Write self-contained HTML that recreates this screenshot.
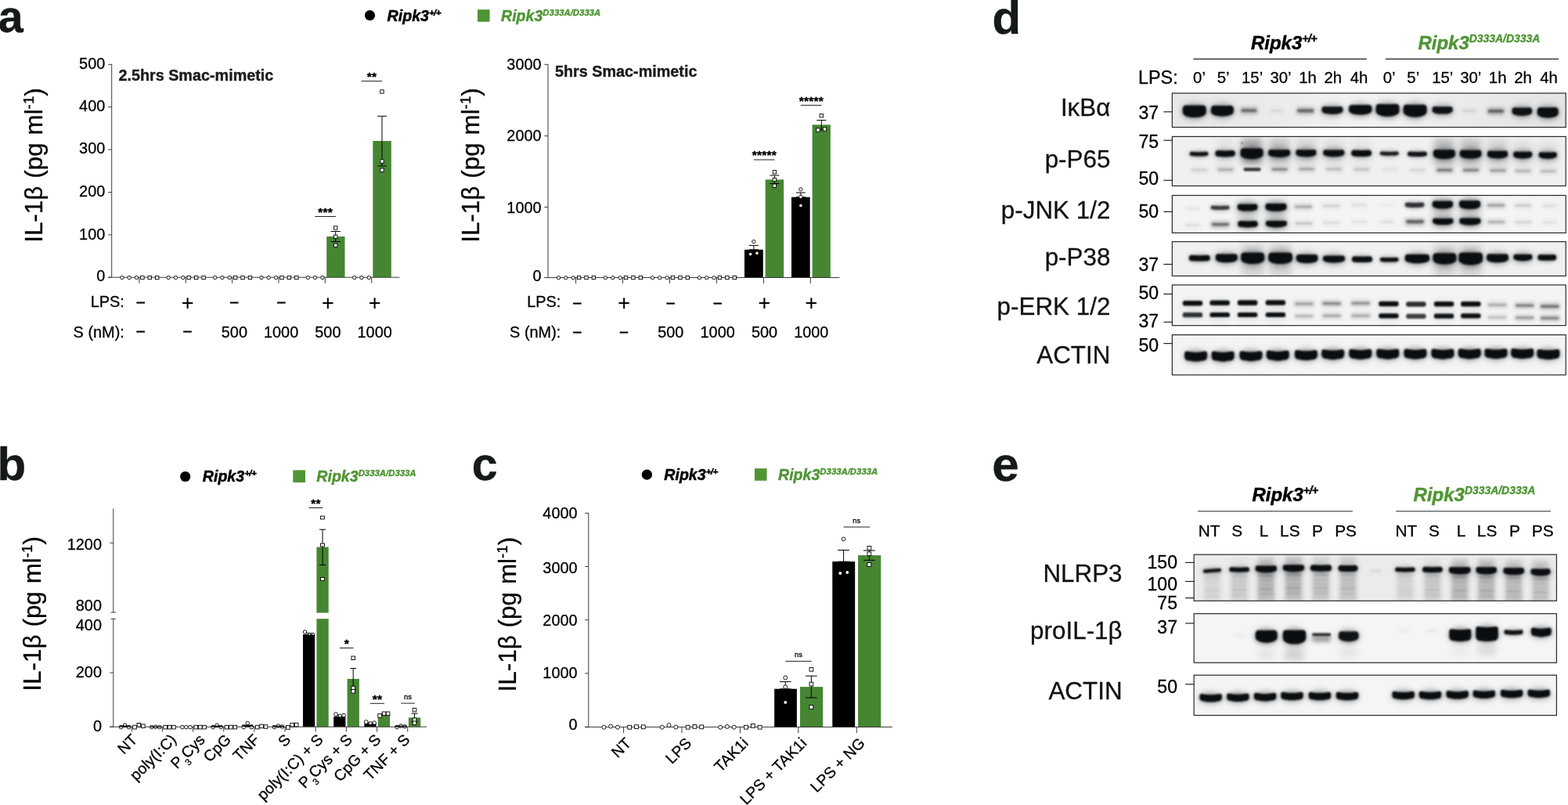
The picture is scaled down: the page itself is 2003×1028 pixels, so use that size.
<!DOCTYPE html>
<html lang="en">
<head>
<meta charset="utf-8">
<title>Figure: IL-1β release and signalling in Ripk3 D333A macrophages</title>
<style>
html,body{margin:0;padding:0;background:#fff;}
body{width:2003px;height:1028px;overflow:hidden;font-family:"Liberation Sans",sans-serif;}
svg{display:block;}
svg text{font-family:"Liberation Sans",sans-serif;}
</style>
</head>
<body>
<svg width="2003" height="1028" viewBox="0 0 2003 1028">
<defs>
<filter id="b0" color-interpolation-filters="sRGB" filterUnits="userSpaceOnUse" x="1480" y="100" width="523" height="830"><feGaussianBlur stdDeviation="0.8"/></filter>
<filter id="b1" color-interpolation-filters="sRGB" filterUnits="userSpaceOnUse" x="1480" y="100" width="523" height="830"><feGaussianBlur stdDeviation="1.3"/></filter>
<filter id="b2" color-interpolation-filters="sRGB" filterUnits="userSpaceOnUse" x="1480" y="100" width="523" height="830"><feGaussianBlur stdDeviation="2.4"/></filter>
<filter id="b3" color-interpolation-filters="sRGB" filterUnits="userSpaceOnUse" x="1480" y="100" width="523" height="830"><feGaussianBlur stdDeviation="4.5"/></filter>
</defs>
<rect width="2003" height="1028" fill="#fff"/>
<g id="panel-a">
<text x="-2.3" y="41.4" font-size="57.4" font-weight="bold" fill="#15191a" stroke="#15191a" stroke-width="0.4">a</text>
<circle cx="472.5" cy="19.7" r="6.6" fill="#000"/>
<text x="494.6" y="26.6" font-size="19.6" font-weight="bold" font-style="italic" stroke="#000" stroke-width="0.45">Ripk3<tspan font-size="11.76" dy="-6.86" letter-spacing="-0.7">+/+</tspan></text>
<rect x="610" y="12.2" width="15.6" height="15.6" fill="#509535"/>
<text x="640" y="26.6" font-size="19.6" font-weight="bold" font-style="italic" fill="#509535" stroke="#509535" stroke-width="0.4">Ripk3<tspan font-size="11.37" dy="-6.86">D333A/D333A</tspan></text>
<rect x="417.2" y="302" width="23.3" height="52.2" fill="#468633"/>
<rect x="476.3" y="180" width="23.5" height="174.2" fill="#468633"/>
<line x1="142.7" y1="81.8" x2="142.7" y2="354.7" stroke="#3a3a3a" stroke-width="1"/>
<line x1="138.1" y1="354.2" x2="510.3" y2="354.2" stroke="#3a3a3a" stroke-width="1"/>
<line x1="138.1" y1="82.3" x2="142.7" y2="82.3" stroke="#3a3a3a" stroke-width="1"/>
<text x="134.3" y="87.6" font-size="19.9" text-anchor="end" stroke="#000" stroke-width="0.28">500</text>
<line x1="138.1" y1="136.7" x2="142.7" y2="136.7" stroke="#3a3a3a" stroke-width="1"/>
<text x="134.3" y="141.7" font-size="19.9" text-anchor="end" stroke="#000" stroke-width="0.28">400</text>
<line x1="138.1" y1="191.1" x2="142.7" y2="191.1" stroke="#3a3a3a" stroke-width="1"/>
<text x="134.3" y="196.3" font-size="19.9" text-anchor="end" stroke="#000" stroke-width="0.28">300</text>
<line x1="138.1" y1="245.5" x2="142.7" y2="245.5" stroke="#3a3a3a" stroke-width="1"/>
<text x="134.3" y="250.6" font-size="19.9" text-anchor="end" stroke="#000" stroke-width="0.28">200</text>
<line x1="138.1" y1="299.9" x2="142.7" y2="299.9" stroke="#3a3a3a" stroke-width="1"/>
<text x="134.3" y="305.5" font-size="19.9" text-anchor="end" stroke="#000" stroke-width="0.28">100</text>
<line x1="138.1" y1="354.2" x2="142.7" y2="354.2" stroke="#3a3a3a" stroke-width="1"/>
<text x="134.3" y="358.6" font-size="19.9" text-anchor="end" stroke="#000" stroke-width="0.28">0</text>
<line x1="177.9" y1="354.2" x2="177.9" y2="361.7" stroke="#3a3a3a" stroke-width="1"/>
<line x1="237.26" y1="354.2" x2="237.26" y2="361.7" stroke="#3a3a3a" stroke-width="1"/>
<line x1="296.62" y1="354.2" x2="296.62" y2="361.7" stroke="#3a3a3a" stroke-width="1"/>
<line x1="355.98" y1="354.2" x2="355.98" y2="361.7" stroke="#3a3a3a" stroke-width="1"/>
<line x1="415.34" y1="354.2" x2="415.34" y2="361.7" stroke="#3a3a3a" stroke-width="1"/>
<line x1="474.7" y1="354.2" x2="474.7" y2="361.7" stroke="#3a3a3a" stroke-width="1"/>
<path d="M422.55 295.5H434.85M428.7 295.5V308.5M422.55 308.5H434.85" stroke="#000" stroke-width="1" fill="none"/>
<path d="M482.1 148.3H493.9M488 148.3V212M482.1 212H493.9" stroke="#000" stroke-width="1" fill="none"/>
<circle cx="155.9" cy="354.5" r="2.2" fill="#fff" stroke="#000" stroke-width="0.9"/>
<circle cx="165.1" cy="354.5" r="2.2" fill="#fff" stroke="#000" stroke-width="0.9"/>
<circle cx="174.5" cy="354.5" r="2.2" fill="#fff" stroke="#000" stroke-width="0.9"/>
<rect x="179.7" y="352.3" width="4.4" height="4.4" fill="#fff" stroke="#000" stroke-width="0.9"/>
<rect x="189.1" y="352.3" width="4.4" height="4.4" fill="#fff" stroke="#000" stroke-width="0.9"/>
<rect x="198.5" y="352.3" width="4.4" height="4.4" fill="#fff" stroke="#000" stroke-width="0.9"/>
<circle cx="215.26" cy="354.5" r="2.2" fill="#fff" stroke="#000" stroke-width="0.9"/>
<circle cx="224.46" cy="354.5" r="2.2" fill="#fff" stroke="#000" stroke-width="0.9"/>
<circle cx="233.86" cy="354.5" r="2.2" fill="#fff" stroke="#000" stroke-width="0.9"/>
<rect x="239.06" y="352.3" width="4.4" height="4.4" fill="#fff" stroke="#000" stroke-width="0.9"/>
<rect x="248.46" y="352.3" width="4.4" height="4.4" fill="#fff" stroke="#000" stroke-width="0.9"/>
<rect x="257.86" y="352.3" width="4.4" height="4.4" fill="#fff" stroke="#000" stroke-width="0.9"/>
<circle cx="274.62" cy="354.5" r="2.2" fill="#fff" stroke="#000" stroke-width="0.9"/>
<circle cx="283.82" cy="354.5" r="2.2" fill="#fff" stroke="#000" stroke-width="0.9"/>
<circle cx="293.22" cy="354.5" r="2.2" fill="#fff" stroke="#000" stroke-width="0.9"/>
<rect x="298.42" y="352.3" width="4.4" height="4.4" fill="#fff" stroke="#000" stroke-width="0.9"/>
<rect x="307.82" y="352.3" width="4.4" height="4.4" fill="#fff" stroke="#000" stroke-width="0.9"/>
<rect x="317.22" y="352.3" width="4.4" height="4.4" fill="#fff" stroke="#000" stroke-width="0.9"/>
<circle cx="333.98" cy="354.5" r="2.2" fill="#fff" stroke="#000" stroke-width="0.9"/>
<circle cx="343.18" cy="354.5" r="2.2" fill="#fff" stroke="#000" stroke-width="0.9"/>
<circle cx="352.58" cy="354.5" r="2.2" fill="#fff" stroke="#000" stroke-width="0.9"/>
<rect x="357.78" y="352.3" width="4.4" height="4.4" fill="#fff" stroke="#000" stroke-width="0.9"/>
<rect x="367.18" y="352.3" width="4.4" height="4.4" fill="#fff" stroke="#000" stroke-width="0.9"/>
<rect x="376.58" y="352.3" width="4.4" height="4.4" fill="#fff" stroke="#000" stroke-width="0.9"/>
<circle cx="393.34" cy="354.5" r="2.2" fill="#fff" stroke="#000" stroke-width="0.9"/>
<circle cx="402.54" cy="354.5" r="2.2" fill="#fff" stroke="#000" stroke-width="0.9"/>
<circle cx="411.94" cy="354.5" r="2.2" fill="#fff" stroke="#000" stroke-width="0.9"/>
<circle cx="452.7" cy="354.5" r="2.2" fill="#fff" stroke="#000" stroke-width="0.9"/>
<circle cx="461.9" cy="354.5" r="2.2" fill="#fff" stroke="#000" stroke-width="0.9"/>
<circle cx="471.3" cy="354.5" r="2.2" fill="#fff" stroke="#000" stroke-width="0.9"/>
<rect x="426.5" y="288.8" width="4.4" height="4.4" fill="#fff" stroke="#000" stroke-width="0.9"/>
<rect x="426.5" y="300.1" width="4.4" height="4.4" fill="#fff" stroke="#000" stroke-width="0.9"/>
<rect x="426.5" y="311" width="4.4" height="4.4" fill="#fff" stroke="#000" stroke-width="0.9"/>
<rect x="485.8" y="114.8" width="4.4" height="4.4" fill="#fff" stroke="#000" stroke-width="0.9"/>
<rect x="485.8" y="203.8" width="4.4" height="4.4" fill="#fff" stroke="#000" stroke-width="0.9"/>
<rect x="485.8" y="215" width="4.4" height="4.4" fill="#fff" stroke="#000" stroke-width="0.9"/>
<line x1="402.3" y1="276.5" x2="428.9" y2="276.5" stroke="#222" stroke-width="1"/>
<text x="415.7" y="275.8" font-size="15.5" text-anchor="middle" font-weight="bold" stroke="#000" stroke-width="0.4" letter-spacing="0.2">***</text>
<line x1="461.6" y1="103.6" x2="488.2" y2="103.6" stroke="#222" stroke-width="1"/>
<text x="475" y="102.9" font-size="15.5" text-anchor="middle" font-weight="bold" stroke="#000" stroke-width="0.4" letter-spacing="0.2">**</text>
<text x="151.4" y="102.8" font-size="19.8" font-weight="bold" fill="#1c1c1c" stroke="#1c1c1c" stroke-width="0.4">2.5hrs Smac-mimetic</text>
<text x="158.8" y="391.6" font-size="19.9" text-anchor="end" stroke="#000" stroke-width="0.28">LPS:</text>
<text x="158.8" y="430.5" font-size="19.9" text-anchor="end" stroke="#000" stroke-width="0.28">S (nM):</text>
<text x="179.8" y="391.2" font-size="18" text-anchor="middle" stroke="#000" stroke-width="0.7">–</text>
<text x="179.8" y="428.2" font-size="18" text-anchor="middle" stroke="#000" stroke-width="0.7">–</text>
<text x="239.58" y="395.7" font-size="27" text-anchor="middle" stroke="#000" stroke-width="0.12">+</text>
<text x="239.58" y="428.2" font-size="18" text-anchor="middle" stroke="#000" stroke-width="0.7">–</text>
<text x="299.36" y="391.2" font-size="18" text-anchor="middle" stroke="#000" stroke-width="0.7">–</text>
<text x="299.36" y="430.7" font-size="19.9" text-anchor="middle" stroke="#000" stroke-width="0.28">500</text>
<text x="359.14" y="391.2" font-size="18" text-anchor="middle" stroke="#000" stroke-width="0.7">–</text>
<text x="359.14" y="430.7" font-size="19.9" text-anchor="middle" stroke="#000" stroke-width="0.28">1000</text>
<text x="418.92" y="395.7" font-size="27" text-anchor="middle" stroke="#000" stroke-width="0.12">+</text>
<text x="418.92" y="430.7" font-size="19.9" text-anchor="middle" stroke="#000" stroke-width="0.28">500</text>
<text x="478.7" y="395.7" font-size="27" text-anchor="middle" stroke="#000" stroke-width="0.12">+</text>
<text x="478.7" y="430.7" font-size="19.9" text-anchor="middle" stroke="#000" stroke-width="0.28">1000</text>
<text transform="translate(54.2 211) rotate(-90)" font-size="31.4" text-anchor="middle" stroke="#000" stroke-width="0.3" word-spacing="1.2">IL-1β (pg ml<tspan font-size="18.84" dy="-11.3">-1</tspan><tspan dy="11.3">)</tspan></text>
<rect x="951" y="318.8" width="23.8" height="35.7" fill="#000"/>
<rect x="977.7" y="229.3" width="23.5" height="125.2" fill="#468633"/>
<rect x="1011" y="251.7" width="23.7" height="102.8" fill="#000"/>
<rect x="1037.6" y="159.3" width="23.3" height="195.2" fill="#468633"/>
<line x1="700" y1="81.8" x2="700" y2="355" stroke="#3a3a3a" stroke-width="1"/>
<line x1="695.4" y1="354.5" x2="1072.5" y2="354.5" stroke="#3a3a3a" stroke-width="1"/>
<line x1="695.4" y1="82.3" x2="700" y2="82.3" stroke="#3a3a3a" stroke-width="1"/>
<text x="691.6" y="88.9" font-size="19.9" text-anchor="end" stroke="#000" stroke-width="0.28">3000</text>
<line x1="695.4" y1="173.6" x2="700" y2="173.6" stroke="#3a3a3a" stroke-width="1"/>
<text x="691.6" y="180.4" font-size="19.9" text-anchor="end" stroke="#000" stroke-width="0.28">2000</text>
<line x1="695.4" y1="264.5" x2="700" y2="264.5" stroke="#3a3a3a" stroke-width="1"/>
<text x="691.6" y="271.8" font-size="19.9" text-anchor="end" stroke="#000" stroke-width="0.28">1000</text>
<line x1="695.4" y1="354.5" x2="700" y2="354.5" stroke="#3a3a3a" stroke-width="1"/>
<text x="691.6" y="358.5" font-size="19.9" text-anchor="end" stroke="#000" stroke-width="0.28">0</text>
<line x1="735.6" y1="354.5" x2="735.6" y2="362" stroke="#3a3a3a" stroke-width="1"/>
<line x1="795.55" y1="354.5" x2="795.55" y2="362" stroke="#3a3a3a" stroke-width="1"/>
<line x1="855.5" y1="354.5" x2="855.5" y2="362" stroke="#3a3a3a" stroke-width="1"/>
<line x1="915.45" y1="354.5" x2="915.45" y2="362" stroke="#3a3a3a" stroke-width="1"/>
<line x1="975.4" y1="354.5" x2="975.4" y2="362" stroke="#3a3a3a" stroke-width="1"/>
<line x1="1035.35" y1="354.5" x2="1035.35" y2="362" stroke="#3a3a3a" stroke-width="1"/>
<path d="M956.8 313.4H968.8M962.8 313.4V318.8M956.8 318.8H968.8" stroke="#000" stroke-width="1" fill="none"/>
<path d="M983.4 224H995.4M989.4 224V234.5M983.4 234.5H995.4" stroke="#000" stroke-width="1" fill="none"/>
<path d="M1016.9 246H1028.9M1022.9 246V251.7M1016.9 251.7H1028.9" stroke="#000" stroke-width="1" fill="none"/>
<path d="M1043.3 153.5H1055.3M1049.3 153.5V166M1043.3 166H1055.3" stroke="#000" stroke-width="1" fill="none"/>
<circle cx="713.6" cy="354.7" r="2.2" fill="#fff" stroke="#000" stroke-width="0.9"/>
<circle cx="722.8" cy="354.7" r="2.2" fill="#fff" stroke="#000" stroke-width="0.9"/>
<circle cx="732.2" cy="354.7" r="2.2" fill="#fff" stroke="#000" stroke-width="0.9"/>
<rect x="737.4" y="352.3" width="4.4" height="4.4" fill="#fff" stroke="#000" stroke-width="0.9"/>
<rect x="746.8" y="352.3" width="4.4" height="4.4" fill="#fff" stroke="#000" stroke-width="0.9"/>
<rect x="756.2" y="352.3" width="4.4" height="4.4" fill="#fff" stroke="#000" stroke-width="0.9"/>
<circle cx="773.55" cy="354.7" r="2.2" fill="#fff" stroke="#000" stroke-width="0.9"/>
<circle cx="782.75" cy="354.7" r="2.2" fill="#fff" stroke="#000" stroke-width="0.9"/>
<circle cx="792.15" cy="354.7" r="2.2" fill="#fff" stroke="#000" stroke-width="0.9"/>
<rect x="797.35" y="352.3" width="4.4" height="4.4" fill="#fff" stroke="#000" stroke-width="0.9"/>
<rect x="806.75" y="352.3" width="4.4" height="4.4" fill="#fff" stroke="#000" stroke-width="0.9"/>
<rect x="816.15" y="352.3" width="4.4" height="4.4" fill="#fff" stroke="#000" stroke-width="0.9"/>
<circle cx="833.5" cy="354.7" r="2.2" fill="#fff" stroke="#000" stroke-width="0.9"/>
<circle cx="842.7" cy="354.7" r="2.2" fill="#fff" stroke="#000" stroke-width="0.9"/>
<circle cx="852.1" cy="354.7" r="2.2" fill="#fff" stroke="#000" stroke-width="0.9"/>
<rect x="857.3" y="352.3" width="4.4" height="4.4" fill="#fff" stroke="#000" stroke-width="0.9"/>
<rect x="866.7" y="352.3" width="4.4" height="4.4" fill="#fff" stroke="#000" stroke-width="0.9"/>
<rect x="876.1" y="352.3" width="4.4" height="4.4" fill="#fff" stroke="#000" stroke-width="0.9"/>
<circle cx="893.45" cy="354.7" r="2.2" fill="#fff" stroke="#000" stroke-width="0.9"/>
<circle cx="902.65" cy="354.7" r="2.2" fill="#fff" stroke="#000" stroke-width="0.9"/>
<circle cx="912.05" cy="354.7" r="2.2" fill="#fff" stroke="#000" stroke-width="0.9"/>
<rect x="917.25" y="352.3" width="4.4" height="4.4" fill="#fff" stroke="#000" stroke-width="0.9"/>
<rect x="926.65" y="352.3" width="4.4" height="4.4" fill="#fff" stroke="#000" stroke-width="0.9"/>
<rect x="936.05" y="352.3" width="4.4" height="4.4" fill="#fff" stroke="#000" stroke-width="0.9"/>
<circle cx="962.8" cy="308.5" r="2.2" fill="#fff" stroke="#000" stroke-width="0.9"/>
<circle cx="958.6" cy="324.6" r="2.2" fill="#fff" stroke="#000" stroke-width="0.9"/>
<circle cx="967" cy="323.3" r="2.2" fill="#fff" stroke="#000" stroke-width="0.9"/>
<rect x="987.2" y="217.6" width="4.4" height="4.4" fill="#fff" stroke="#000" stroke-width="0.9"/>
<rect x="987.2" y="227.3" width="4.4" height="4.4" fill="#fff" stroke="#000" stroke-width="0.9"/>
<rect x="987.2" y="235" width="4.4" height="4.4" fill="#fff" stroke="#000" stroke-width="0.9"/>
<circle cx="1022.9" cy="241.8" r="2.2" fill="#fff" stroke="#000" stroke-width="0.9"/>
<circle cx="1022.9" cy="251.5" r="2.2" fill="#fff" stroke="#000" stroke-width="0.9"/>
<circle cx="1022.9" cy="262.6" r="2.2" fill="#fff" stroke="#000" stroke-width="0.9"/>
<rect x="1047.1" y="145.6" width="4.4" height="4.4" fill="#fff" stroke="#000" stroke-width="0.9"/>
<rect x="1042.8" y="163.8" width="4.4" height="4.4" fill="#fff" stroke="#000" stroke-width="0.9"/>
<rect x="1051.3" y="162.8" width="4.4" height="4.4" fill="#fff" stroke="#000" stroke-width="0.9"/>
<line x1="962.9" y1="204" x2="989.5" y2="204" stroke="#222" stroke-width="1"/>
<text x="976.3" y="203.3" font-size="15.5" text-anchor="middle" font-weight="bold" stroke="#000" stroke-width="0.4" letter-spacing="0.2">*****</text>
<line x1="1022.9" y1="134.4" x2="1049.5" y2="134.4" stroke="#222" stroke-width="1"/>
<text x="1036.3" y="133.7" font-size="15.5" text-anchor="middle" font-weight="bold" stroke="#000" stroke-width="0.4" letter-spacing="0.2">*****</text>
<text x="709" y="98.3" font-size="19.8" font-weight="bold" fill="#1c1c1c" stroke="#1c1c1c" stroke-width="0.4">5hrs Smac-mimetic</text>
<text x="716.3" y="391.9" font-size="19.9" text-anchor="end" stroke="#000" stroke-width="0.28">LPS:</text>
<text x="716.3" y="430.8" font-size="19.9" text-anchor="end" stroke="#000" stroke-width="0.28">S (nM):</text>
<text x="737.2" y="391.5" font-size="18" text-anchor="middle" stroke="#000" stroke-width="0.7">–</text>
<text x="737.2" y="428.5" font-size="18" text-anchor="middle" stroke="#000" stroke-width="0.7">–</text>
<text x="797.02" y="396" font-size="27" text-anchor="middle" stroke="#000" stroke-width="0.12">+</text>
<text x="797.02" y="428.5" font-size="18" text-anchor="middle" stroke="#000" stroke-width="0.7">–</text>
<text x="856.84" y="391.5" font-size="18" text-anchor="middle" stroke="#000" stroke-width="0.7">–</text>
<text x="856.84" y="431" font-size="19.9" text-anchor="middle" stroke="#000" stroke-width="0.28">500</text>
<text x="916.66" y="391.5" font-size="18" text-anchor="middle" stroke="#000" stroke-width="0.7">–</text>
<text x="916.66" y="431" font-size="19.9" text-anchor="middle" stroke="#000" stroke-width="0.28">1000</text>
<text x="976.48" y="396" font-size="27" text-anchor="middle" stroke="#000" stroke-width="0.12">+</text>
<text x="976.48" y="431" font-size="19.9" text-anchor="middle" stroke="#000" stroke-width="0.28">500</text>
<text x="1036.3" y="396" font-size="27" text-anchor="middle" stroke="#000" stroke-width="0.12">+</text>
<text x="1036.3" y="431" font-size="19.9" text-anchor="middle" stroke="#000" stroke-width="0.28">1000</text>
<text transform="translate(612.2 211) rotate(-90)" font-size="31.4" text-anchor="middle" stroke="#000" stroke-width="0.3" word-spacing="1.2">IL-1β (pg ml<tspan font-size="18.84" dy="-11.3">-1</tspan><tspan dy="11.3">)</tspan></text>
</g>
<g id="panel-b">
<text x="-3.6" y="613" font-size="60" font-weight="bold" fill="#15191a" stroke="#15191a" stroke-width="0.4">b</text>
<circle cx="236.7" cy="608.5" r="6.6" fill="#000"/>
<text x="258.8" y="615.2" font-size="19.6" font-weight="bold" font-style="italic" stroke="#000" stroke-width="0.45">Ripk3<tspan font-size="11.76" dy="-6.86" letter-spacing="-0.7">+/+</tspan></text>
<rect x="374.3" y="600.4" width="15.7" height="15.7" fill="#509535"/>
<text x="404.3" y="615.2" font-size="19.6" font-weight="bold" font-style="italic" fill="#509535" stroke="#509535" stroke-width="0.4">Ripk3<tspan font-size="11.37" dy="-6.86">D333A/D333A</tspan></text>
<rect x="365.25" y="925.8" width="15.3" height="2.4" fill="#468633"/>
<rect x="387.02" y="810.1" width="15.2" height="118.1" fill="#000"/>
<rect x="404.42" y="698.6" width="15.3" height="229.6" fill="#468633"/>
<rect x="426.19" y="915.2" width="15.2" height="13" fill="#000"/>
<rect x="443.59" y="867" width="15.3" height="61.2" fill="#468633"/>
<rect x="465.36" y="923.9" width="15.2" height="4.3" fill="#000"/>
<rect x="482.76" y="912.3" width="15.3" height="15.9" fill="#468633"/>
<rect x="504.53" y="926.8" width="15.2" height="1.4" fill="#000"/>
<rect x="521.93" y="916.4" width="15.3" height="11.8" fill="#468633"/>
<rect x="152" y="927" width="15.2" height="1.2" fill="#000"/>
<rect x="269.51" y="927" width="15.2" height="1.2" fill="#000"/>
<rect x="308.68" y="926.8" width="15.2" height="1.4" fill="#000"/>
<rect x="347.85" y="927" width="15.2" height="1.2" fill="#000"/>
<rect x="402.22" y="782.6" width="20" height="7.6" fill="#fff"/>
<line x1="144.8" y1="649.4" x2="144.8" y2="782" stroke="#3a3a3a" stroke-width="1"/>
<line x1="141.6" y1="782" x2="148" y2="782" stroke="#3a3a3a" stroke-width="1"/>
<line x1="141.6" y1="790.3" x2="148" y2="790.3" stroke="#3a3a3a" stroke-width="1"/>
<line x1="144.8" y1="790.3" x2="144.8" y2="928.7" stroke="#3a3a3a" stroke-width="1"/>
<line x1="140.2" y1="928.2" x2="545.2" y2="928.2" stroke="#3a3a3a" stroke-width="1"/>
<line x1="140.2" y1="693.3" x2="144.8" y2="693.3" stroke="#3a3a3a" stroke-width="1"/>
<text x="130" y="701.6" font-size="19.9" text-anchor="end" stroke="#000" stroke-width="0.28">1200</text>
<text x="130" y="780.4" font-size="19.9" text-anchor="end" stroke="#000" stroke-width="0.28">800</text>
<text x="130" y="804.8" font-size="19.9" text-anchor="end" stroke="#000" stroke-width="0.28">400</text>
<line x1="140.2" y1="859" x2="144.8" y2="859" stroke="#3a3a3a" stroke-width="1"/>
<text x="130" y="865.3" font-size="19.9" text-anchor="end" stroke="#000" stroke-width="0.28">200</text>
<line x1="140.2" y1="928.2" x2="144.8" y2="928.2" stroke="#3a3a3a" stroke-width="1"/>
<text x="130" y="933.7" font-size="19.9" text-anchor="end" stroke="#000" stroke-width="0.28">0</text>
<line x1="168.2" y1="928.2" x2="168.2" y2="934.6" stroke="#3a3a3a" stroke-width="1"/>
<line x1="207.37" y1="928.2" x2="207.37" y2="934.6" stroke="#3a3a3a" stroke-width="1"/>
<line x1="246.54" y1="928.2" x2="246.54" y2="934.6" stroke="#3a3a3a" stroke-width="1"/>
<line x1="285.71" y1="928.2" x2="285.71" y2="934.6" stroke="#3a3a3a" stroke-width="1"/>
<line x1="324.88" y1="928.2" x2="324.88" y2="934.6" stroke="#3a3a3a" stroke-width="1"/>
<line x1="364.05" y1="928.2" x2="364.05" y2="934.6" stroke="#3a3a3a" stroke-width="1"/>
<line x1="403.22" y1="928.2" x2="403.22" y2="934.6" stroke="#3a3a3a" stroke-width="1"/>
<line x1="442.39" y1="928.2" x2="442.39" y2="934.6" stroke="#3a3a3a" stroke-width="1"/>
<line x1="481.56" y1="928.2" x2="481.56" y2="934.6" stroke="#3a3a3a" stroke-width="1"/>
<line x1="520.73" y1="928.2" x2="520.73" y2="934.6" stroke="#3a3a3a" stroke-width="1"/>
<path d="M408.02 676.2H416.02M412.02 676.2V721.5M408.02 721.5H416.02" stroke="#000" stroke-width="1" fill="none"/>
<path d="M390.62 808.6H398.62M394.62 808.6V810.6M390.62 810.6H398.62" stroke="#000" stroke-width="1" fill="none"/>
<path d="M447.49 853.5H454.89M451.19 853.5V880.5M447.49 880.5H454.89" stroke="#000" stroke-width="1" fill="none"/>
<path d="M429.79 913.6H437.79M433.79 913.6V915.4M429.79 915.4H437.79" stroke="#000" stroke-width="1" fill="none"/>
<path d="M468.96 922.6H476.96M472.96 922.6V924.2M468.96 924.2H476.96" stroke="#000" stroke-width="1" fill="none"/>
<path d="M486.36 911.3H494.36M490.36 911.3V913.3M486.36 913.3H494.36" stroke="#000" stroke-width="1" fill="none"/>
<path d="M525.53 911.2H533.53M529.53 911.2V921.8M525.53 921.8H533.53" stroke="#000" stroke-width="1" fill="none"/>
<circle cx="154.6" cy="928.6" r="2.3" fill="#fff" stroke="#000" stroke-width="0.9"/>
<circle cx="159.6" cy="926" r="2.3" fill="#fff" stroke="#000" stroke-width="0.9"/>
<circle cx="164.6" cy="928.6" r="2.3" fill="#fff" stroke="#000" stroke-width="0.9"/>
<line x1="152.6" y1="927.53" x2="166.6" y2="927.53" stroke="#000" stroke-width="2.37" opacity="0.8"/>
<rect x="169.7" y="926.3" width="4.6" height="4.6" fill="#fff" stroke="#000" stroke-width="0.9"/>
<rect x="175.1" y="923.5" width="4.6" height="4.6" fill="#fff" stroke="#000" stroke-width="0.9"/>
<rect x="180.5" y="924.9" width="4.6" height="4.6" fill="#fff" stroke="#000" stroke-width="0.9"/>
<circle cx="193.77" cy="928.6" r="2.3" fill="#fff" stroke="#000" stroke-width="0.9"/>
<circle cx="198.77" cy="928.3" r="2.3" fill="#fff" stroke="#000" stroke-width="0.9"/>
<circle cx="203.77" cy="928.6" r="2.3" fill="#fff" stroke="#000" stroke-width="0.9"/>
<line x1="191.77" y1="928.3" x2="205.77" y2="928.3" stroke="#000" stroke-width="1.6" opacity="0.8"/>
<rect x="208.87" y="926.3" width="4.6" height="4.6" fill="#fff" stroke="#000" stroke-width="0.9"/>
<rect x="214.27" y="926.3" width="4.6" height="4.6" fill="#fff" stroke="#000" stroke-width="0.9"/>
<rect x="219.67" y="926.3" width="4.6" height="4.6" fill="#fff" stroke="#000" stroke-width="0.9"/>
<circle cx="232.94" cy="928.6" r="2.3" fill="#fff" stroke="#000" stroke-width="0.9"/>
<circle cx="237.94" cy="928.6" r="2.3" fill="#fff" stroke="#000" stroke-width="0.9"/>
<circle cx="242.94" cy="928.6" r="2.3" fill="#fff" stroke="#000" stroke-width="0.9"/>
<rect x="248.04" y="926.3" width="4.6" height="4.6" fill="#fff" stroke="#000" stroke-width="0.9"/>
<rect x="253.44" y="926.3" width="4.6" height="4.6" fill="#fff" stroke="#000" stroke-width="0.9"/>
<rect x="258.84" y="926.3" width="4.6" height="4.6" fill="#fff" stroke="#000" stroke-width="0.9"/>
<circle cx="272.11" cy="928.6" r="2.3" fill="#fff" stroke="#000" stroke-width="0.9"/>
<circle cx="277.11" cy="926.2" r="2.3" fill="#fff" stroke="#000" stroke-width="0.9"/>
<circle cx="282.11" cy="928.6" r="2.3" fill="#fff" stroke="#000" stroke-width="0.9"/>
<line x1="270.11" y1="927.6" x2="284.11" y2="927.6" stroke="#000" stroke-width="2.3" opacity="0.8"/>
<rect x="287.21" y="926.3" width="4.6" height="4.6" fill="#fff" stroke="#000" stroke-width="0.9"/>
<rect x="292.61" y="926.3" width="4.6" height="4.6" fill="#fff" stroke="#000" stroke-width="0.9"/>
<rect x="298.01" y="926.3" width="4.6" height="4.6" fill="#fff" stroke="#000" stroke-width="0.9"/>
<circle cx="311.28" cy="928.6" r="2.3" fill="#fff" stroke="#000" stroke-width="0.9"/>
<circle cx="316.28" cy="923.6" r="2.3" fill="#fff" stroke="#000" stroke-width="0.9"/>
<circle cx="321.28" cy="928.6" r="2.3" fill="#fff" stroke="#000" stroke-width="0.9"/>
<line x1="309.28" y1="926.73" x2="323.28" y2="926.73" stroke="#000" stroke-width="2.7" opacity="0.8"/>
<rect x="326.38" y="926.3" width="4.6" height="4.6" fill="#fff" stroke="#000" stroke-width="0.9"/>
<rect x="331.78" y="925.1" width="4.6" height="4.6" fill="#fff" stroke="#000" stroke-width="0.9"/>
<rect x="337.18" y="925.7" width="4.6" height="4.6" fill="#fff" stroke="#000" stroke-width="0.9"/>
<circle cx="350.45" cy="928.6" r="2.3" fill="#fff" stroke="#000" stroke-width="0.9"/>
<circle cx="355.45" cy="927" r="2.3" fill="#fff" stroke="#000" stroke-width="0.9"/>
<circle cx="360.45" cy="928" r="2.3" fill="#fff" stroke="#000" stroke-width="0.9"/>
<line x1="348.45" y1="927.67" x2="362.45" y2="927.67" stroke="#000" stroke-width="2.23" opacity="0.8"/>
<rect x="365.55" y="926.7" width="4.6" height="4.6" fill="#fff" stroke="#000" stroke-width="0.9"/>
<rect x="370.95" y="923.3" width="4.6" height="4.6" fill="#fff" stroke="#000" stroke-width="0.9"/>
<rect x="376.35" y="923.3" width="4.6" height="4.6" fill="#fff" stroke="#000" stroke-width="0.9"/>
<circle cx="507.13" cy="928.6" r="2.3" fill="#fff" stroke="#000" stroke-width="0.9"/>
<circle cx="512.13" cy="927" r="2.3" fill="#fff" stroke="#000" stroke-width="0.9"/>
<circle cx="517.13" cy="927.8" r="2.3" fill="#fff" stroke="#000" stroke-width="0.9"/>
<line x1="505.13" y1="927.6" x2="519.13" y2="927.6" stroke="#000" stroke-width="2.3" opacity="0.8"/>
<circle cx="389.5" cy="807" r="2.2" fill="#fff" stroke="#000" stroke-width="0.9"/>
<circle cx="395.2" cy="809.8" r="1.5" fill="#fff" stroke="#000" stroke-width="0.9"/>
<circle cx="400" cy="809.8" r="1.5" fill="#fff" stroke="#000" stroke-width="0.9"/>
<rect x="409.52" y="659.1" width="5" height="3.8" fill="#fff" stroke="#000" stroke-width="0.9"/>
<rect x="409.52" y="694.1" width="5" height="3.8" fill="#fff" stroke="#000" stroke-width="0.9"/>
<rect x="409.52" y="737.5" width="5" height="3.8" fill="#fff" stroke="#000" stroke-width="0.9"/>
<circle cx="429" cy="912.1" r="2.4" fill="#fff" stroke="#000" stroke-width="0.9"/>
<circle cx="434.3" cy="914" r="2.1" fill="#fff" stroke="#000" stroke-width="0.9"/>
<circle cx="439.1" cy="913.6" r="2.3" fill="#fff" stroke="#000" stroke-width="0.9"/>
<rect x="448.89" y="838" width="4.6" height="4.6" fill="#fff" stroke="#000" stroke-width="0.9"/>
<rect x="448.89" y="876.3" width="4.6" height="4.6" fill="#fff" stroke="#000" stroke-width="0.9"/>
<rect x="448.89" y="880.5" width="4.6" height="4.6" fill="#fff" stroke="#000" stroke-width="0.9"/>
<circle cx="467.7" cy="922" r="2.4" fill="#fff" stroke="#000" stroke-width="0.9"/>
<circle cx="473.2" cy="923.6" r="2.1" fill="#fff" stroke="#000" stroke-width="0.9"/>
<circle cx="478.2" cy="923" r="2.3" fill="#fff" stroke="#000" stroke-width="0.9"/>
<rect x="482.8" y="911.7" width="4.6" height="4.6" fill="#fff" stroke="#000" stroke-width="0.9"/>
<rect x="488.3" y="909" width="4.6" height="4.6" fill="#fff" stroke="#000" stroke-width="0.9"/>
<rect x="493.3" y="909" width="4.6" height="4.6" fill="#fff" stroke="#000" stroke-width="0.9"/>
<rect x="527.23" y="904.3" width="4.6" height="4.6" fill="#fff" stroke="#000" stroke-width="0.9"/>
<rect x="527.23" y="916.9" width="4.6" height="4.6" fill="#fff" stroke="#000" stroke-width="0.9"/>
<rect x="527.23" y="921" width="4.6" height="4.6" fill="#fff" stroke="#000" stroke-width="0.9"/>
<line x1="394.32" y1="648.5" x2="412.32" y2="648.5" stroke="#222" stroke-width="1"/>
<text x="403.42" y="647.8" font-size="15.5" text-anchor="middle" font-weight="bold" stroke="#000" stroke-width="0.4" letter-spacing="0.2">**</text>
<line x1="433.89" y1="827.5" x2="451.49" y2="827.5" stroke="#222" stroke-width="1"/>
<text x="442.79" y="826.8" font-size="15.5" text-anchor="middle" font-weight="bold" stroke="#000" stroke-width="0.4" letter-spacing="0.2">*</text>
<line x1="472.96" y1="898.3" x2="490.96" y2="898.3" stroke="#222" stroke-width="1"/>
<text x="482.06" y="897.6" font-size="15.5" text-anchor="middle" font-weight="bold" stroke="#000" stroke-width="0.4" letter-spacing="0.2">**</text>
<line x1="512.13" y1="898.1" x2="529.93" y2="898.1" stroke="#222" stroke-width="1"/>
<text x="521.03" y="892.7" font-size="9.4" text-anchor="middle" stroke="#000" stroke-width="0.28">ns</text>
<text transform="translate(176.7 945.7) rotate(-45)" font-size="19.6" text-anchor="end" stroke="#000" stroke-width="0.28">NT</text>
<text transform="translate(226.37 945.7) rotate(-45)" font-size="19.6" text-anchor="end" stroke="#000" stroke-width="0.28">poly(I:C)</text>
<text transform="translate(263.04 945.7) rotate(-45)" font-size="19.6" text-anchor="end" stroke="#000" stroke-width="0.28">P<tspan font-size="11.5" dx="0.4" dy="7.4">3</tspan><tspan dx="-1.4" dy="-7.4">Cys</tspan></text>
<text transform="translate(296.21 945.7) rotate(-45)" font-size="19.6" text-anchor="end" stroke="#000" stroke-width="0.28">CpG</text>
<text transform="translate(332.68 945.7) rotate(-45)" font-size="19.6" text-anchor="end" stroke="#000" stroke-width="0.28">TNF</text>
<text transform="translate(372.55 945.7) rotate(-45)" font-size="19.6" text-anchor="end" stroke="#000" stroke-width="0.28">S</text>
<text transform="translate(413.92 945.7) rotate(-45)" font-size="19.6" text-anchor="end" stroke="#000" stroke-width="0.28">poly(I:C) + S</text>
<text transform="translate(451.19 945.7) rotate(-45)" font-size="19.6" text-anchor="end" stroke="#000" stroke-width="0.28">P<tspan font-size="11.5" dx="0.4" dy="7.4">3</tspan><tspan dx="-1.4" dy="-7.4">Cys</tspan> + S</text>
<text transform="translate(487.66 945.7) rotate(-45)" font-size="19.6" text-anchor="end" stroke="#000" stroke-width="0.28">CpG + S</text>
<text transform="translate(524.63 945.7) rotate(-45)" font-size="19.6" text-anchor="end" stroke="#000" stroke-width="0.28">TNF + S</text>
<text transform="translate(52.3 783.8) rotate(-90)" font-size="31.4" text-anchor="middle" stroke="#000" stroke-width="0.3" word-spacing="1.2">IL-1β (pg ml<tspan font-size="18.84" dy="-11.3">-1</tspan><tspan dy="11.3">)</tspan></text>
</g>
<g id="panel-c">
<text x="602.8" y="612.8" font-size="59" font-weight="bold" fill="#15191a" stroke="#15191a" stroke-width="0.4">c</text>
<circle cx="826.4" cy="606.2" r="6.6" fill="#000"/>
<text x="848.3" y="613" font-size="19.6" font-weight="bold" font-style="italic" stroke="#000" stroke-width="0.45">Ripk3<tspan font-size="11.76" dy="-6.86" letter-spacing="-0.7">+/+</tspan></text>
<rect x="964" y="598.2" width="15.6" height="15.6" fill="#509535"/>
<text x="994" y="613" font-size="19.6" font-weight="bold" font-style="italic" fill="#509535" stroke="#509535" stroke-width="0.4">Ripk3<tspan font-size="11.37" dy="-6.86">D333A/D333A</tspan></text>
<rect x="989.2" y="879.7" width="28.7" height="48.7" fill="#000"/>
<rect x="1022" y="877.1" width="29.2" height="51.3" fill="#468633"/>
<rect x="1063.3" y="717.1" width="28.9" height="211.3" fill="#000"/>
<rect x="1096.1" y="709.1" width="29.2" height="219.3" fill="#468633"/>
<line x1="751.8" y1="654.8" x2="751.8" y2="928.9" stroke="#222" stroke-width="0.9"/>
<line x1="747.2" y1="928.4" x2="1139.9" y2="928.4" stroke="#222" stroke-width="0.9"/>
<line x1="747.2" y1="655.3" x2="751.8" y2="655.3" stroke="#222" stroke-width="0.9"/>
<text x="737.6" y="661.5" font-size="19.9" text-anchor="end" stroke="#000" stroke-width="0.28">4000</text>
<line x1="747.2" y1="723.5" x2="751.8" y2="723.5" stroke="#222" stroke-width="0.9"/>
<text x="737.6" y="731.5" font-size="19.9" text-anchor="end" stroke="#000" stroke-width="0.28">3000</text>
<line x1="747.2" y1="791.7" x2="751.8" y2="791.7" stroke="#222" stroke-width="0.9"/>
<text x="737.6" y="799" font-size="19.9" text-anchor="end" stroke="#000" stroke-width="0.28">2000</text>
<line x1="747.2" y1="859.9" x2="751.8" y2="859.9" stroke="#222" stroke-width="0.9"/>
<text x="737.6" y="866" font-size="19.9" text-anchor="end" stroke="#000" stroke-width="0.28">1000</text>
<line x1="747.2" y1="928.4" x2="751.8" y2="928.4" stroke="#222" stroke-width="0.9"/>
<text x="737.6" y="932.3" font-size="19.9" text-anchor="end" stroke="#000" stroke-width="0.28">0</text>
<line x1="796.6" y1="928.4" x2="796.6" y2="936.2" stroke="#222" stroke-width="0.9"/>
<line x1="871.02" y1="928.4" x2="871.02" y2="936.2" stroke="#222" stroke-width="0.9"/>
<line x1="945.44" y1="928.4" x2="945.44" y2="936.2" stroke="#222" stroke-width="0.9"/>
<line x1="1019.86" y1="928.4" x2="1019.86" y2="936.2" stroke="#222" stroke-width="0.9"/>
<line x1="1094.28" y1="928.4" x2="1094.28" y2="936.2" stroke="#222" stroke-width="0.9"/>
<path d="M996 870.6H1010.6M1003.3 870.6V879.8M996 879.8H1010.6" stroke="#000" stroke-width="1" fill="none"/>
<path d="M1029.1 863.2H1043.7M1036.4 863.2V891M1029.1 891H1043.7" stroke="#000" stroke-width="1" fill="none"/>
<path d="M1070.2 702.5H1085M1077.6 702.5V717.2M1070.2 717.2H1085" stroke="#000" stroke-width="1" fill="none"/>
<path d="M1103 703H1117.8M1110.4 703V715.4M1103 715.4H1117.8" stroke="#000" stroke-width="1" fill="none"/>
<circle cx="771.4" cy="928.7" r="2.5" fill="#fff" stroke="#000" stroke-width="0.9"/>
<circle cx="780.1" cy="927.5" r="2.5" fill="#fff" stroke="#000" stroke-width="0.9"/>
<circle cx="788.9" cy="928.7" r="2.5" fill="#fff" stroke="#000" stroke-width="0.9"/>
<rect x="801.8" y="926.3" width="4.8" height="4.8" fill="#fff" stroke="#000" stroke-width="0.9"/>
<rect x="810.6" y="925.7" width="4.8" height="4.8" fill="#fff" stroke="#000" stroke-width="0.9"/>
<rect x="819.4" y="925.9" width="4.8" height="4.8" fill="#fff" stroke="#000" stroke-width="0.9"/>
<circle cx="845.82" cy="928.7" r="2.5" fill="#fff" stroke="#000" stroke-width="0.9"/>
<circle cx="854.52" cy="926.1" r="2.5" fill="#fff" stroke="#000" stroke-width="0.9"/>
<circle cx="863.32" cy="928.5" r="2.5" fill="#fff" stroke="#000" stroke-width="0.9"/>
<rect x="876.22" y="926.3" width="4.8" height="4.8" fill="#fff" stroke="#000" stroke-width="0.9"/>
<rect x="885.02" y="925.5" width="4.8" height="4.8" fill="#fff" stroke="#000" stroke-width="0.9"/>
<rect x="893.82" y="925.9" width="4.8" height="4.8" fill="#fff" stroke="#000" stroke-width="0.9"/>
<circle cx="920.24" cy="928.7" r="2.5" fill="#fff" stroke="#000" stroke-width="0.9"/>
<circle cx="928.94" cy="927.9" r="2.5" fill="#fff" stroke="#000" stroke-width="0.9"/>
<circle cx="937.74" cy="928.7" r="2.5" fill="#fff" stroke="#000" stroke-width="0.9"/>
<rect x="950.64" y="926.3" width="4.8" height="4.8" fill="#fff" stroke="#000" stroke-width="0.9"/>
<rect x="959.44" y="924.5" width="4.8" height="4.8" fill="#fff" stroke="#000" stroke-width="0.9"/>
<rect x="968.24" y="926.3" width="4.8" height="4.8" fill="#fff" stroke="#000" stroke-width="0.9"/>
<circle cx="1003.3" cy="865.5" r="2.5" fill="#fff" stroke="#000" stroke-width="0.9"/>
<circle cx="1003.3" cy="877.2" r="2.5" fill="#fff" stroke="#000" stroke-width="0.9"/>
<circle cx="1003.3" cy="896.9" r="1.9" fill="#fff"/>
<rect x="1034" y="852.4" width="4.8" height="4.8" fill="#fff" stroke="#000" stroke-width="0.9"/>
<rect x="1034" y="871.2" width="4.8" height="4.8" fill="#fff" stroke="#000" stroke-width="0.9"/>
<rect x="1034" y="900.6" width="4.8" height="4.8" fill="#fff" stroke="#000" stroke-width="0.9"/>
<circle cx="1077.6" cy="688.4" r="2.4" fill="#fff" stroke="#000" stroke-width="0.9"/>
<circle cx="1073.3" cy="732" r="1.9" fill="#fff"/><circle cx="1082.3" cy="731" r="1.9" fill="#fff"/>
<rect x="1108" y="697.5" width="4.8" height="4.8" fill="#fff" stroke="#000" stroke-width="0.9"/>
<rect x="1108" y="704.9" width="4.8" height="4.8" fill="#fff" stroke="#000" stroke-width="0.9"/>
<rect x="1108" y="718.6" width="4.8" height="4.8" fill="#fff" stroke="#000" stroke-width="0.9"/>
<line x1="1077.6" y1="673" x2="1111" y2="673" stroke="#222" stroke-width="1"/>
<text x="1094.3" y="667.6" font-size="9.4" text-anchor="middle" stroke="#000" stroke-width="0.28">ns</text>
<line x1="1003.3" y1="844.4" x2="1036.7" y2="844.4" stroke="#222" stroke-width="1"/>
<text x="1020" y="839" font-size="9.4" text-anchor="middle" stroke="#000" stroke-width="0.28">ns</text>
<text transform="translate(807.5 950.2) rotate(-45)" font-size="19.6" text-anchor="end" stroke="#000" stroke-width="0.28">NT</text>
<text transform="translate(884.52 950.2) rotate(-45)" font-size="19.6" text-anchor="end" stroke="#000" stroke-width="0.28">LPS</text>
<text transform="translate(957.14 950.2) rotate(-45)" font-size="19.6" text-anchor="end" stroke="#000" stroke-width="0.28">TAK1i</text>
<text transform="translate(1031.56 950.2) rotate(-45)" font-size="19.6" text-anchor="end" stroke="#000" stroke-width="0.28">LPS + TAK1i</text>
<text transform="translate(1105.98 950.2) rotate(-45)" font-size="19.6" text-anchor="end" stroke="#000" stroke-width="0.28">LPS + NG</text>
<text transform="translate(659.1 784.6) rotate(-90)" font-size="31.4" text-anchor="middle" stroke="#000" stroke-width="0.3" word-spacing="1.2">IL-1β (pg ml<tspan font-size="18.84" dy="-11.3">-1</tspan><tspan dy="11.3">)</tspan></text>
</g>
<g id="panel-d">
<text x="1267.4" y="42.6" font-size="60" font-weight="bold" fill="#15191a" stroke="#15191a" stroke-width="0.4">d</text>
<text x="1640" y="62.6" font-size="24" font-weight="bold" font-style="italic" stroke="#000" stroke-width="0.45" text-anchor="middle">Ripk3<tspan font-size="14.4" dy="-8.4" letter-spacing="-0.7">+/+</tspan></text>
<text x="1889.3" y="62.6" font-size="24" font-weight="bold" font-style="italic" fill="#509535" stroke="#509535" stroke-width="0.4" text-anchor="middle">Ripk3<tspan font-size="13.92" dy="-8.4">D333A/D333A</tspan></text>
<line x1="1524.4" y1="75.4" x2="1745.8" y2="75.4" stroke="#1c2020" stroke-width="1.3"/>
<line x1="1769.9" y1="75.4" x2="1991" y2="75.4" stroke="#1c2020" stroke-width="1.3"/>
<text x="1454" y="107.2" font-size="23.4" stroke="#000" stroke-width="0.28">LPS:</text>
<text x="1532" y="105.8" font-size="20.4" text-anchor="middle" stroke="#000" stroke-width="0.28">0’</text>
<text x="1562.7" y="105.8" font-size="20.4" text-anchor="middle" stroke="#000" stroke-width="0.28">5’</text>
<text x="1599.6" y="105.8" font-size="20.4" text-anchor="middle" stroke="#000" stroke-width="0.28">15’</text>
<text x="1636" y="105.8" font-size="20.4" text-anchor="middle" stroke="#000" stroke-width="0.28">30’</text>
<text x="1670.6" y="105.8" font-size="20.4" text-anchor="middle" stroke="#000" stroke-width="0.28">1h</text>
<text x="1702.8" y="105.8" font-size="20.4" text-anchor="middle" stroke="#000" stroke-width="0.28">2h</text>
<text x="1736" y="105.8" font-size="20.4" text-anchor="middle" stroke="#000" stroke-width="0.28">4h</text>
<text x="1774.7" y="105.8" font-size="20.4" text-anchor="middle" stroke="#000" stroke-width="0.28">0’</text>
<text x="1805.3" y="105.8" font-size="20.4" text-anchor="middle" stroke="#000" stroke-width="0.28">5’</text>
<text x="1842.8" y="105.8" font-size="20.4" text-anchor="middle" stroke="#000" stroke-width="0.28">15’</text>
<text x="1878.8" y="105.8" font-size="20.4" text-anchor="middle" stroke="#000" stroke-width="0.28">30’</text>
<text x="1913.2" y="105.8" font-size="20.4" text-anchor="middle" stroke="#000" stroke-width="0.28">1h</text>
<text x="1945.6" y="105.8" font-size="20.4" text-anchor="middle" stroke="#000" stroke-width="0.28">2h</text>
<text x="1978.5" y="105.8" font-size="20.4" text-anchor="middle" stroke="#000" stroke-width="0.28">4h</text>
<clipPath id="bc1"><rect x="1497.4" y="119" width="502.8" height="43.5"/></clipPath>
<linearGradient id="bg1" x1="0" y1="0" x2="1" y2="0"><stop offset="0" stop-color="#e7e7e7"/><stop offset="0.3" stop-color="#ececec"/><stop offset="0.48" stop-color="#f3f3f3"/><stop offset="0.62" stop-color="#eeeeee"/><stop offset="0.8" stop-color="#e9e9e9"/><stop offset="1" stop-color="#e4e4e4"/></linearGradient>
<rect x="1497.4" y="119" width="502.8" height="43.5" fill="url(#bg1)"/>
<g clip-path="url(#bc1)" fill="#0b0e11" stroke-linecap="round">
<g filter="url(#b3)">
<ellipse cx="1525.8" cy="142.2" rx="17" ry="12.8" opacity="0.1"/>
<ellipse cx="1561.4" cy="141.6" rx="16.5" ry="11.8" opacity="0.1"/>
<ellipse cx="1702" cy="141" rx="15.5" ry="10.05" opacity="0.1"/>
<ellipse cx="1737.8" cy="140.2" rx="16.75" ry="11.3" opacity="0.1"/>
<ellipse cx="1772.5" cy="140.8" rx="17" ry="13.05" opacity="0.1"/>
<ellipse cx="1807.6" cy="141.6" rx="17" ry="13.05" opacity="0.1"/>
<ellipse cx="1842.6" cy="140.8" rx="15" ry="9.8" opacity="0.1"/>
<ellipse cx="1944.3" cy="142.6" rx="14.75" ry="10.3" opacity="0.1"/>
<ellipse cx="1977.2" cy="143.8" rx="15.5" ry="11.8" opacity="0.1"/>
</g>
<g filter="url(#b2)">
<ellipse cx="1525.8" cy="142.2" rx="16.5" ry="10.3" opacity="0.26"/>
<ellipse cx="1561.4" cy="141.6" rx="16" ry="9.3" opacity="0.26"/>
<rect x="1584.4" y="136.95" width="22" height="8.5" rx="2" opacity="0.3"/>
<rect x="1622" y="138.1" width="18" height="7" rx="2" opacity="0.04"/>
<rect x="1656.2" y="137.15" width="23" height="8.5" rx="2" opacity="0.33"/>
<ellipse cx="1702" cy="141" rx="15" ry="7.55" opacity="0.25"/>
<ellipse cx="1737.8" cy="140.2" rx="16.25" ry="8.8" opacity="0.26"/>
<ellipse cx="1772.5" cy="140.8" rx="16.5" ry="10.55" opacity="0.26"/>
<ellipse cx="1807.6" cy="141.6" rx="16.5" ry="10.55" opacity="0.26"/>
<ellipse cx="1842.6" cy="140.8" rx="14.5" ry="7.3" opacity="0.25"/>
<rect x="1866.5" y="138.1" width="20" height="7" rx="2" opacity="0.05"/>
<rect x="1899.8" y="137.65" width="22" height="8.5" rx="2" opacity="0.33"/>
<ellipse cx="1944.3" cy="142.6" rx="14.25" ry="7.8" opacity="0.25"/>
<ellipse cx="1977.2" cy="143.8" rx="15" ry="9.3" opacity="0.26"/>
</g>
<g filter="url(#b1)">
<path d="M1515.4 134.4Q1525.8 134.82 1536.2 134.4Q1540.8 134.4 1540.8 139L1540.8 143.14C1540.8 152.29 1510.8 152.29 1510.8 143.14L1510.8 139Q1510.8 134.4 1515.4 134.4Z"/>
<path d="M1551.5 134.8Q1561.4 135.22 1571.3 134.8Q1575.9 134.8 1575.9 139.4L1575.9 142.42C1575.9 150.39 1546.9 150.39 1546.9 142.42L1546.9 139.4Q1546.9 134.8 1551.5 134.8Z"/>
<rect x="1585.4" y="139.31" width="20" height="3.78" rx="1.59" opacity="0.4"/>
<rect x="1623" y="140.17" width="16" height="2.85" rx="1.2" opacity="0.06"/>
<rect x="1657.2" y="139.51" width="21" height="3.78" rx="1.59" opacity="0.44"/>
<path d="M1691.93 135.95Q1702 136.37 1712.07 135.95Q1715.5 135.95 1715.5 139.38L1715.5 141.61C1715.5 147.53 1688.5 147.53 1688.5 141.61L1688.5 139.38Q1688.5 135.95 1691.93 135.95Z" opacity="0.97"/>
<path d="M1727.33 133.9Q1737.8 134.32 1748.27 133.9Q1752.55 133.9 1752.55 138.18L1752.55 140.96C1752.55 148.35 1723.05 148.35 1723.05 140.96L1723.05 138.18Q1723.05 133.9 1727.33 133.9Z"/>
<path d="M1762.1 132.75Q1772.5 133.17 1782.9 132.75Q1787.5 132.75 1787.5 137.35L1787.5 141.77C1787.5 151.21 1757.5 151.21 1757.5 141.77L1757.5 137.35Q1757.5 132.75 1762.1 132.75Z"/>
<path d="M1797.2 133.55Q1807.6 133.97 1818 133.55Q1822.6 133.55 1822.6 138.15L1822.6 142.57C1822.6 152.01 1792.6 152.01 1792.6 142.57L1792.6 138.15Q1792.6 133.55 1797.2 133.55Z"/>
<path d="M1832.86 136Q1842.6 136.42 1852.34 136Q1855.6 136 1855.6 139.26L1855.6 141.38C1855.6 147.01 1829.6 147.01 1829.6 141.38L1829.6 139.26Q1829.6 136 1832.86 136Z" opacity="0.98"/>
<rect x="1867.5" y="140.17" width="18" height="2.85" rx="1.2" opacity="0.06"/>
<rect x="1900.8" y="140.01" width="20" height="3.78" rx="1.59" opacity="0.44"/>
<path d="M1935.15 137.3Q1944.3 137.72 1953.45 137.3Q1957.05 137.3 1957.05 140.9L1957.05 143.24C1957.05 149.45 1931.55 149.45 1931.55 143.24L1931.55 140.9Q1931.55 137.3 1935.15 137.3Z" opacity="0.98"/>
<path d="M1968.3 137Q1977.2 137.42 1986.1 137Q1990.7 137 1990.7 141.6L1990.7 144.62C1990.7 152.59 1963.7 152.59 1963.7 144.62L1963.7 141.6Q1963.7 137 1968.3 137Z"/>
</g>
</g>
<rect x="1497.4" y="119" width="502.8" height="43.5" fill="none" stroke="#262a2c" stroke-width="1.2"/>
<text x="1418.4" y="148.4" font-size="31.4" text-anchor="end" fill="#111" stroke="#111" stroke-width="0.28">IκBα</text>
<text x="1480.2" y="151.8" font-size="23.1" text-anchor="end" stroke="#000" stroke-width="0.28">37</text>
<line x1="1486.4" y1="142.8" x2="1497.4" y2="142.8" stroke="#222" stroke-width="1.2"/>
<clipPath id="bc2"><rect x="1497.4" y="174.4" width="502.8" height="63"/></clipPath>
<rect x="1497.4" y="174.4" width="502.8" height="63" fill="#f0f0f0"/>
<g clip-path="url(#bc2)" fill="#0b0e11" stroke-linecap="round">
<g filter="url(#b3)">
<rect x="1552.1" y="176.4" width="26" height="34" opacity="0.05"/>
<rect x="1586.1" y="176.2" width="26" height="34" opacity="0.3"/>
<ellipse cx="1599.1" cy="196.2" rx="16.5" ry="12" opacity="0.1"/>
<rect x="1621.1" y="176" width="26" height="34" opacity="0.18"/>
<ellipse cx="1634.1" cy="196" rx="16" ry="10" opacity="0.1"/>
<rect x="1655.4" y="175.8" width="26" height="34" opacity="0.1"/>
<ellipse cx="1668.4" cy="195.8" rx="15" ry="9.75" opacity="0.1"/>
<rect x="1690.8" y="175.8" width="26" height="34" opacity="0.06"/>
<ellipse cx="1703.8" cy="195.8" rx="15.5" ry="9.5" opacity="0.1"/>
<rect x="1726.1" y="176" width="26" height="34" opacity="0.04"/>
<rect x="1831.9" y="177" width="26" height="34" opacity="0.22"/>
<ellipse cx="1844.9" cy="197" rx="16" ry="11" opacity="0.1"/>
<rect x="1865.6" y="177" width="26" height="34" opacity="0.2"/>
<ellipse cx="1878.6" cy="197" rx="15.85" ry="10.5" opacity="0.1"/>
<rect x="1900" y="177.5" width="26" height="34" opacity="0.12"/>
<ellipse cx="1913" cy="197.5" rx="15" ry="10" opacity="0.1"/>
<rect x="1932.2" y="178" width="26" height="34" opacity="0.06"/>
<ellipse cx="1945.2" cy="198" rx="14" ry="9.5" opacity="0.1"/>
<rect x="1964.2" y="178.5" width="26" height="34" opacity="0.05"/>
<ellipse cx="1977.2" cy="198.5" rx="13.5" ry="9.25" opacity="0.1"/>
</g>
<g filter="url(#b2)">
<ellipse cx="1531.6" cy="196.8" rx="13.5" ry="5.1" opacity="0.25"/>
<rect x="1521.1" y="213.7" width="22" height="6.6" rx="2" opacity="0.07"/>
<ellipse cx="1565.1" cy="196.4" rx="14.25" ry="6.5" opacity="0.26"/>
<rect x="1554.6" y="213.3" width="22" height="6.6" rx="2" opacity="0.15"/>
<ellipse cx="1599.1" cy="196.2" rx="16" ry="9.5" opacity="0.26"/>
<ellipse cx="1634.1" cy="196" rx="15.5" ry="7.5" opacity="0.26"/>
<rect x="1623.6" y="212.9" width="22" height="6.6" rx="2" opacity="0.25"/>
<ellipse cx="1668.4" cy="195.8" rx="14.5" ry="7.25" opacity="0.26"/>
<rect x="1657.9" y="212.7" width="22" height="6.6" rx="2" opacity="0.18"/>
<ellipse cx="1703.8" cy="195.8" rx="15" ry="7" opacity="0.26"/>
<rect x="1693.3" y="212.7" width="22" height="6.6" rx="2" opacity="0.12"/>
<ellipse cx="1739.1" cy="196" rx="14.5" ry="6.5" opacity="0.26"/>
<rect x="1728.6" y="212.9" width="22" height="6.6" rx="2" opacity="0.1"/>
<ellipse cx="1774.7" cy="196.3" rx="13.5" ry="4.9" opacity="0.24"/>
<rect x="1764.2" y="213.2" width="22" height="6.6" rx="2" opacity="0.03"/>
<ellipse cx="1810.4" cy="197" rx="14" ry="5.4" opacity="0.25"/>
<rect x="1799.9" y="213.9" width="22" height="6.6" rx="2" opacity="0.06"/>
<ellipse cx="1844.9" cy="197" rx="15.5" ry="8.5" opacity="0.26"/>
<rect x="1834.4" y="213.9" width="22" height="6.6" rx="2" opacity="0.3"/>
<ellipse cx="1878.6" cy="197" rx="15.35" ry="8" opacity="0.26"/>
<rect x="1868.1" y="213.9" width="22" height="6.6" rx="2" opacity="0.27"/>
<ellipse cx="1913" cy="197.5" rx="14.5" ry="7.5" opacity="0.26"/>
<rect x="1902.5" y="214.4" width="22" height="6.6" rx="2" opacity="0.2"/>
<ellipse cx="1945.2" cy="198" rx="13.5" ry="7" opacity="0.26"/>
<rect x="1934.7" y="214.9" width="22" height="6.6" rx="2" opacity="0.14"/>
<ellipse cx="1977.2" cy="198.5" rx="13" ry="6.75" opacity="0.26"/>
<rect x="1966.7" y="215.4" width="22" height="6.6" rx="2" opacity="0.12"/>
</g>
<g filter="url(#b1)">
<path d="M1522.2 196.3Q1531.6 197.3 1541 196.3" fill="none" stroke="#0b0e11" stroke-width="5.2" opacity="0.97"/>
<rect x="1522.1" y="215.7" width="20" height="2.6" rx="1.09" opacity="0.1"/>
<path d="M1556.35 195.9Q1565.1 196.9 1573.85 195.9" fill="none" stroke="#0b0e11" stroke-width="8"/>
<rect x="1555.6" y="215.3" width="20" height="2.6" rx="1.09" opacity="0.2"/>
<path d="M1589.2 189.2Q1599.1 189.55 1609 189.2Q1613.6 189.2 1613.6 193.8L1613.6 197.04C1613.6 205.25 1584.6 205.25 1584.6 197.04L1584.6 193.8Q1584.6 189.2 1589.2 189.2Z"/>
<rect x="1588.6" y="214.3" width="22" height="4.2" rx="1.76" opacity="0.85"/>
<path d="M1623.5 191Q1634.1 191.35 1644.7 191Q1648.1 191 1648.1 194.4L1648.1 196.6C1648.1 202.47 1620.1 202.47 1620.1 196.6L1620.1 194.4Q1620.1 191 1623.5 191Z"/>
<rect x="1624.6" y="214.9" width="20" height="2.6" rx="1.09" opacity="0.34"/>
<path d="M1658.63 191.05Q1668.4 191.4 1678.17 191.05Q1681.4 191.05 1681.4 194.28L1681.4 196.37C1681.4 201.94 1655.4 201.94 1655.4 196.37L1655.4 194.28Q1655.4 191.05 1658.63 191.05Z"/>
<rect x="1658.9" y="214.7" width="20" height="2.6" rx="1.09" opacity="0.24"/>
<path d="M1693.36 191.3Q1703.8 191.65 1714.24 191.3Q1717.3 191.3 1717.3 194.36L1717.3 196.34C1717.3 201.62 1690.3 201.62 1690.3 196.34L1690.3 194.36Q1690.3 191.3 1693.36 191.3Z"/>
<rect x="1694.3" y="214.7" width="20" height="2.6" rx="1.09" opacity="0.16"/>
<path d="M1730.1 195.5Q1739.1 196.5 1748.1 195.5" fill="none" stroke="#0b0e11" stroke-width="8"/>
<rect x="1729.6" y="214.9" width="20" height="2.6" rx="1.09" opacity="0.13"/>
<path d="M1765.1 195.8Q1774.7 196.8 1784.3 195.8" fill="none" stroke="#0b0e11" stroke-width="4.8" opacity="0.92"/>
<rect x="1765.2" y="215.2" width="20" height="2.6" rx="1.09" opacity="0.04"/>
<path d="M1800.8 196.5Q1810.4 197.5 1820 196.5" fill="none" stroke="#0b0e11" stroke-width="5.8" opacity="0.96"/>
<rect x="1800.9" y="215.9" width="20" height="2.6" rx="1.09" opacity="0.08"/>
<path d="M1834.98 191Q1844.9 191.35 1854.82 191Q1858.9 191 1858.9 195.08L1858.9 197.72C1858.9 204.76 1830.9 204.76 1830.9 197.72L1830.9 195.08Q1830.9 191 1834.98 191Z"/>
<rect x="1835.4" y="215.9" width="20" height="2.6" rx="1.09" opacity="0.4"/>
<path d="M1868.49 191.5Q1878.6 191.85 1888.71 191.5Q1892.45 191.5 1892.45 195.24L1892.45 197.66C1892.45 204.11 1864.75 204.11 1864.75 197.66L1864.75 195.24Q1864.75 191.5 1868.49 191.5Z"/>
<rect x="1869.1" y="215.9" width="20" height="2.6" rx="1.09" opacity="0.36"/>
<path d="M1903.4 192.5Q1913 192.85 1922.6 192.5Q1926 192.5 1926 195.9L1926 198.1C1926 203.97 1900 203.97 1900 198.1L1900 195.9Q1900 192.5 1903.4 192.5Z"/>
<rect x="1903.5" y="216.4" width="20" height="2.6" rx="1.09" opacity="0.27"/>
<path d="M1936.26 193.5Q1945.2 193.85 1954.14 193.5Q1957.2 193.5 1957.2 196.56L1957.2 198.54C1957.2 203.82 1933.2 203.82 1933.2 198.54L1933.2 196.56Q1933.2 193.5 1936.26 193.5Z"/>
<rect x="1935.7" y="216.9" width="20" height="2.6" rx="1.09" opacity="0.19"/>
<path d="M1968.59 194.25Q1977.2 194.6 1985.81 194.25Q1988.7 194.25 1988.7 197.14L1988.7 199.01C1988.7 204 1965.7 204 1965.7 199.01L1965.7 197.14Q1965.7 194.25 1968.59 194.25Z"/>
<rect x="1967.7" y="217.4" width="20" height="2.6" rx="1.09" opacity="0.16"/>
</g>
<g filter="url(#b0)">
<circle cx="1586.6" cy="183" r="0.9"/>
</g>
</g>
<rect x="1497.4" y="174.4" width="502.8" height="63" fill="none" stroke="#262a2c" stroke-width="1.2"/>
<text x="1418.4" y="214.4" font-size="31.4" text-anchor="end" fill="#111" stroke="#111" stroke-width="0.28">p-P65</text>
<text x="1480.2" y="189.4" font-size="23.1" text-anchor="end" stroke="#000" stroke-width="0.28">75</text>
<line x1="1486.4" y1="179.2" x2="1497.4" y2="179.2" stroke="#222" stroke-width="1.2"/>
<text x="1480.2" y="236.4" font-size="23.1" text-anchor="end" stroke="#000" stroke-width="0.28">50</text>
<line x1="1486.4" y1="230.3" x2="1497.4" y2="230.3" stroke="#222" stroke-width="1.2"/>
<clipPath id="bc3"><rect x="1497.4" y="249.5" width="502.8" height="47.9"/></clipPath>
<rect x="1497.4" y="249.5" width="502.8" height="47.9" fill="#f4f4f4"/>
<g clip-path="url(#bc3)" fill="#0b0e11" stroke-linecap="round">
<g filter="url(#b3)">
<rect x="1580.6" y="257.1" width="26" height="36" opacity="0.12"/>
<ellipse cx="1593.6" cy="265.1" rx="14.8" ry="9.5" opacity="0.1"/>
<rect x="1617" y="256.8" width="26" height="36" opacity="0.12"/>
<ellipse cx="1630" cy="264.8" rx="15.5" ry="10" opacity="0.1"/>
<ellipse cx="1630.4" cy="286.1" rx="15.5" ry="9.2" opacity="0.1"/>
<rect x="1829.9" y="253.6" width="26" height="36" opacity="0.12"/>
<ellipse cx="1842.9" cy="261.6" rx="15.1" ry="10" opacity="0.1"/>
<ellipse cx="1843.3" cy="282.9" rx="15.1" ry="9.2" opacity="0.1"/>
<rect x="1864.5" y="253.6" width="26" height="36" opacity="0.12"/>
<ellipse cx="1877.5" cy="261.6" rx="15.5" ry="10.5" opacity="0.1"/>
<ellipse cx="1877.9" cy="282.9" rx="15.5" ry="9.5" opacity="0.1"/>
</g>
<g filter="url(#b2)">
<rect x="1513.2" y="263.3" width="20" height="5.4" rx="2" opacity="0.04"/>
<rect x="1513.6" y="284.1" width="20" height="6.4" rx="2" opacity="0.05"/>
<ellipse cx="1558.6" cy="265.5" rx="13.5" ry="5" opacity="0.2"/>
<rect x="1547" y="283.1" width="24" height="7.4" rx="2" opacity="0.33"/>
<ellipse cx="1593.6" cy="265.1" rx="14.3" ry="7" opacity="0.26"/>
<ellipse cx="1594" cy="286.4" rx="14.3" ry="6.5" opacity="0.26"/>
<ellipse cx="1630" cy="264.8" rx="15" ry="7.5" opacity="0.26"/>
<ellipse cx="1630.4" cy="286.1" rx="15" ry="6.7" opacity="0.26"/>
<rect x="1653" y="260.5" width="24" height="7" rx="2" opacity="0.16"/>
<rect x="1653.4" y="282.1" width="24" height="6.4" rx="2" opacity="0.1"/>
<rect x="1688.5" y="259.8" width="24" height="6.4" rx="2" opacity="0.07"/>
<rect x="1688.9" y="281.1" width="24" height="6.4" rx="2" opacity="0.05"/>
<rect x="1725" y="258.7" width="22" height="6.4" rx="2" opacity="0.05"/>
<rect x="1725.4" y="280" width="22" height="6.4" rx="2" opacity="0.04"/>
<rect x="1762" y="259.3" width="20" height="5.4" rx="2" opacity="0.02"/>
<rect x="1762.4" y="280.35" width="20" height="5.9" rx="2" opacity="0.05"/>
<ellipse cx="1807.1" cy="261.9" rx="13.9" ry="5.5" opacity="0.21"/>
<rect x="1795.1" y="279.25" width="24.8" height="7.9" rx="2" opacity="0.36"/>
<ellipse cx="1842.9" cy="261.6" rx="14.6" ry="7.5" opacity="0.26"/>
<ellipse cx="1843.3" cy="282.9" rx="14.6" ry="6.7" opacity="0.26"/>
<ellipse cx="1877.5" cy="261.6" rx="15" ry="8" opacity="0.26"/>
<ellipse cx="1877.9" cy="282.9" rx="15" ry="7" opacity="0.26"/>
<rect x="1899" y="258.5" width="24" height="7.4" rx="2" opacity="0.18"/>
<rect x="1899.4" y="280" width="24" height="7" rx="2" opacity="0.14"/>
<rect x="1934.05" y="259.05" width="22.7" height="6.9" rx="2" opacity="0.08"/>
<rect x="1934.45" y="280.6" width="22.7" height="6.4" rx="2" opacity="0.07"/>
<rect x="1968.5" y="259.8" width="21" height="6.4" rx="2" opacity="0.05"/>
<rect x="1968.9" y="281.1" width="21" height="6.4" rx="2" opacity="0.04"/>
</g>
<g filter="url(#b1)">
<rect x="1514.2" y="264.9" width="18" height="2.2" rx="0.92" opacity="0.05"/>
<rect x="1514.6" y="286.06" width="18" height="2.48" rx="1.04" opacity="0.06"/>
<path d="M1549.1 265Q1558.6 266 1568.1 265" fill="none" stroke="#0b0e11" stroke-width="5" opacity="0.75"/>
<path d="M1549.55 286.3Q1559 287.3 1568.45 286.3" fill="none" stroke="#0b0e11" stroke-width="3.1" opacity="0.44"/>
<path d="M1583.86 260.6Q1593.6 260.95 1603.34 260.6Q1606.4 260.6 1606.4 263.66L1606.4 265.64C1606.4 270.92 1580.8 270.92 1580.8 265.64L1580.8 263.66Q1580.8 260.6 1583.86 260.6Z"/>
<path d="M1585.2 285.9Q1594 286.9 1602.8 285.9" fill="none" stroke="#0b0e11" stroke-width="8"/>
<path d="M1619.9 259.8Q1630 260.15 1640.1 259.8Q1643.5 259.8 1643.5 263.2L1643.5 265.4C1643.5 271.27 1616.5 271.27 1616.5 265.4L1616.5 263.2Q1616.5 259.8 1619.9 259.8Z"/>
<path d="M1619.76 281.9Q1630.4 282.25 1641.04 281.9Q1643.9 281.9 1643.9 284.76L1643.9 286.6C1643.9 291.53 1616.9 291.53 1616.9 286.6L1616.9 284.76Q1616.9 281.9 1619.76 281.9Z"/>
<rect x="1654" y="262.57" width="22" height="2.85" rx="1.2" opacity="0.21"/>
<rect x="1654.4" y="284.06" width="22" height="2.48" rx="1.04" opacity="0.14"/>
<rect x="1689.5" y="261.76" width="22" height="2.48" rx="1.04" opacity="0.1"/>
<rect x="1689.9" y="283.06" width="22" height="2.48" rx="1.04" opacity="0.07"/>
<rect x="1726" y="260.66" width="20" height="2.48" rx="1.04" opacity="0.06"/>
<rect x="1726.4" y="281.96" width="20" height="2.48" rx="1.04" opacity="0.05"/>
<rect x="1763" y="260.9" width="18" height="2.2" rx="0.92" opacity="0.03"/>
<rect x="1763.4" y="282.2" width="18" height="2.2" rx="0.92" opacity="0.06"/>
<path d="M1797.7 261.4Q1807.1 262.4 1816.5 261.4" fill="none" stroke="#0b0e11" stroke-width="6" opacity="0.8"/>
<path d="M1797.81 282.7Q1807.5 283.7 1817.19 282.7" fill="none" stroke="#0b0e11" stroke-width="3.41" opacity="0.48"/>
<path d="M1833.2 256.6Q1842.9 256.95 1852.6 256.6Q1856 256.6 1856 260L1856 262.2C1856 268.07 1829.8 268.07 1829.8 262.2L1829.8 260Q1829.8 256.6 1833.2 256.6Z"/>
<path d="M1833.06 278.7Q1843.3 279.05 1853.54 278.7Q1856.4 278.7 1856.4 281.56L1856.4 283.4C1856.4 288.33 1830.2 288.33 1830.2 283.4L1830.2 281.56Q1830.2 278.7 1833.06 278.7Z"/>
<path d="M1867.74 256.1Q1877.5 256.45 1887.26 256.1Q1891 256.1 1891 259.84L1891 262.26C1891 268.71 1864 268.71 1864 262.26L1864 259.84Q1864 256.1 1867.74 256.1Z"/>
<path d="M1867.46 278.4Q1877.9 278.75 1888.34 278.4Q1891.4 278.4 1891.4 281.46L1891.4 283.44C1891.4 288.72 1864.4 288.72 1864.4 283.44L1864.4 281.46Q1864.4 278.4 1867.46 278.4Z"/>
<rect x="1900" y="260.65" width="22" height="3.1" rx="1.3" opacity="0.24"/>
<rect x="1900.4" y="282.07" width="22" height="2.85" rx="1.2" opacity="0.19"/>
<rect x="1935.05" y="261.11" width="20.7" height="2.79" rx="1.17" opacity="0.11"/>
<rect x="1935.45" y="282.56" width="20.7" height="2.48" rx="1.04" opacity="0.09"/>
<rect x="1969.5" y="261.76" width="19" height="2.48" rx="1.04" opacity="0.06"/>
<rect x="1969.9" y="283.06" width="19" height="2.48" rx="1.04" opacity="0.06"/>
</g>
</g>
<rect x="1497.4" y="249.5" width="502.8" height="47.9" fill="none" stroke="#262a2c" stroke-width="1.2"/>
<text x="1418.4" y="278.6" font-size="31.4" text-anchor="end" fill="#111" stroke="#111" stroke-width="0.28">p-JNK 1/2</text>
<text x="1480.2" y="278.4" font-size="23.1" text-anchor="end" stroke="#000" stroke-width="0.28">50</text>
<line x1="1486.4" y1="270.4" x2="1497.4" y2="270.4" stroke="#222" stroke-width="1.2"/>
<clipPath id="bc4"><rect x="1497.4" y="308.6" width="502.8" height="43.8"/></clipPath>
<rect x="1497.4" y="308.6" width="502.8" height="43.8" fill="#f0f0f0"/>
<g clip-path="url(#bc4)" fill="#0b0e11" stroke-linecap="round">
<g filter="url(#b3)">
<ellipse cx="1566.8" cy="329.8" rx="16" ry="10.5" opacity="0.1"/>
<rect x="1586.2" y="311.8" width="28" height="40" opacity="0.14"/>
<ellipse cx="1600.2" cy="329.8" rx="17" ry="12.3" opacity="0.1"/>
<rect x="1621.6" y="311.8" width="28" height="40" opacity="0.14"/>
<ellipse cx="1635.6" cy="329.8" rx="17.35" ry="12.3" opacity="0.1"/>
<ellipse cx="1669.6" cy="330.5" rx="15.85" ry="10.5" opacity="0.1"/>
<ellipse cx="1704" cy="331" rx="16" ry="9.5" opacity="0.1"/>
<ellipse cx="1810.4" cy="330.5" rx="17.7" ry="10.75" opacity="0.1"/>
<rect x="1831.4" y="312.5" width="28" height="40" opacity="0.14"/>
<ellipse cx="1845.4" cy="330.5" rx="17" ry="12.25" opacity="0.1"/>
<rect x="1864.7" y="312.5" width="28" height="40" opacity="0.14"/>
<ellipse cx="1878.7" cy="330.5" rx="17.35" ry="13" opacity="0.1"/>
<ellipse cx="1913" cy="329.8" rx="15.9" ry="10.5" opacity="0.1"/>
<ellipse cx="1945.4" cy="329" rx="14" ry="9.25" opacity="0.1"/>
</g>
<g filter="url(#b2)">
<ellipse cx="1532.3" cy="329.8" rx="15" ry="6.15" opacity="0.26"/>
<ellipse cx="1566.8" cy="329.8" rx="15.5" ry="8" opacity="0.26"/>
<ellipse cx="1600.2" cy="329.8" rx="16.5" ry="9.8" opacity="0.26"/>
<ellipse cx="1635.6" cy="329.8" rx="16.85" ry="9.8" opacity="0.26"/>
<ellipse cx="1669.6" cy="330.5" rx="15.35" ry="8" opacity="0.26"/>
<ellipse cx="1704" cy="331" rx="15.5" ry="7" opacity="0.26"/>
<ellipse cx="1740" cy="331.2" rx="14.6" ry="6.25" opacity="0.26"/>
<ellipse cx="1774.7" cy="331.7" rx="13.5" ry="5.25" opacity="0.26"/>
<ellipse cx="1810.4" cy="330.5" rx="17.2" ry="8.25" opacity="0.26"/>
<ellipse cx="1845.4" cy="330.5" rx="16.5" ry="9.75" opacity="0.26"/>
<ellipse cx="1878.7" cy="330.5" rx="16.85" ry="10.5" opacity="0.26"/>
<ellipse cx="1913" cy="329.8" rx="15.4" ry="8" opacity="0.26"/>
<ellipse cx="1945.4" cy="329" rx="13.5" ry="6.75" opacity="0.26"/>
<ellipse cx="1976.2" cy="329" rx="13.4" ry="6.25" opacity="0.26"/>
</g>
<g filter="url(#b1)">
<path d="M1522.45 329.5Q1532.3 330.1 1542.15 329.5" fill="none" stroke="#0b0e11" stroke-width="7.3"/>
<path d="M1556.54 324.3Q1566.8 324.51 1577.06 324.3Q1580.8 324.3 1580.8 328.04L1580.8 330.46C1580.8 336.91 1552.8 336.91 1552.8 330.46L1552.8 328.04Q1552.8 324.3 1556.54 324.3Z"/>
<path d="M1589.8 322.5Q1600.2 322.71 1610.6 322.5Q1615.2 322.5 1615.2 327.1L1615.2 330.68C1615.2 339.24 1585.2 339.24 1585.2 330.68L1585.2 327.1Q1585.2 322.5 1589.8 322.5Z"/>
<path d="M1624.85 322.5Q1635.6 322.71 1646.35 322.5Q1650.95 322.5 1650.95 327.1L1650.95 330.68C1650.95 339.24 1620.25 339.24 1620.25 330.68L1620.25 327.1Q1620.25 322.5 1624.85 322.5Z"/>
<path d="M1659.49 325Q1669.6 325.21 1679.71 325Q1683.45 325 1683.45 328.74L1683.45 331.16C1683.45 337.61 1655.75 337.61 1655.75 331.16L1655.75 328.74Q1655.75 325 1659.49 325Z"/>
<path d="M1693.06 326.5Q1704 326.71 1714.94 326.5Q1718 326.5 1718 329.56L1718 331.54C1718 336.82 1690 336.82 1690 331.54L1690 329.56Q1690 326.5 1693.06 326.5Z"/>
<path d="M1730.65 330.9Q1740 331.5 1749.35 330.9" fill="none" stroke="#0b0e11" stroke-width="7.5"/>
<path d="M1765.45 331.4Q1774.7 332 1783.95 331.4" fill="none" stroke="#0b0e11" stroke-width="5.5"/>
<path d="M1798.61 324.75Q1810.4 324.96 1822.19 324.75Q1826.1 324.75 1826.1 328.66L1826.1 331.19C1826.1 337.94 1794.7 337.94 1794.7 331.19L1794.7 328.66Q1794.7 324.75 1798.61 324.75Z"/>
<path d="M1835 323.25Q1845.4 323.46 1855.8 323.25Q1860.4 323.25 1860.4 327.85L1860.4 331.37C1860.4 339.88 1830.4 339.88 1830.4 331.37L1830.4 327.85Q1830.4 323.25 1835 323.25Z"/>
<path d="M1867.95 322.5Q1878.7 322.71 1889.45 322.5Q1894.05 322.5 1894.05 327.1L1894.05 331.46C1894.05 340.85 1863.35 340.85 1863.35 331.46L1863.35 327.1Q1863.35 322.5 1867.95 322.5Z"/>
<path d="M1902.84 324.3Q1913 324.51 1923.16 324.3Q1926.9 324.3 1926.9 328.04L1926.9 330.46C1926.9 336.91 1899.1 336.91 1899.1 330.46L1899.1 328.04Q1899.1 324.3 1902.84 324.3Z"/>
<path d="M1936.29 324.75Q1945.4 324.96 1954.51 324.75Q1957.4 324.75 1957.4 327.64L1957.4 329.51C1957.4 334.5 1933.4 334.5 1933.4 329.51L1933.4 327.64Q1933.4 324.75 1936.29 324.75Z"/>
<path d="M1968.05 328.7Q1976.2 329.3 1984.35 328.7" fill="none" stroke="#0b0e11" stroke-width="7.5"/>
</g>
</g>
<rect x="1497.4" y="308.6" width="502.8" height="43.8" fill="none" stroke="#262a2c" stroke-width="1.2"/>
<text x="1418.4" y="339" font-size="31.4" text-anchor="end" fill="#111" stroke="#111" stroke-width="0.28">p-P38</text>
<text x="1480.2" y="346.1" font-size="23.1" text-anchor="end" stroke="#000" stroke-width="0.28">37</text>
<line x1="1486.4" y1="337.5" x2="1497.4" y2="337.5" stroke="#222" stroke-width="1.2"/>
<clipPath id="bc5"><rect x="1497.4" y="363.9" width="502.8" height="51.8"/></clipPath>
<rect x="1497.4" y="363.9" width="502.8" height="51.8" fill="#f4f4f4"/>
<g clip-path="url(#bc5)" fill="#0b0e11" stroke-linecap="round">
<g filter="url(#b3)">
<rect x="1511.5" y="382" width="24" height="30" opacity="0.05"/>
<rect x="1546.2" y="382" width="24" height="30" opacity="0.05"/>
<rect x="1581.6" y="382" width="24" height="30" opacity="0.05"/>
<rect x="1617.4" y="382" width="24" height="30" opacity="0.05"/>
<rect x="1761.9" y="382" width="24" height="30" opacity="0.05"/>
<rect x="1832.5" y="382" width="24" height="30" opacity="0.05"/>
<rect x="1866.8" y="382" width="24" height="30" opacity="0.05"/>
</g>
<g filter="url(#b2)">
<rect x="1653.05" y="384.3" width="25.5" height="7.4" rx="2" opacity="0.18"/>
<rect x="1653.05" y="399.9" width="25.5" height="7.4" rx="2" opacity="0.12"/>
<rect x="1688.45" y="383.9" width="25.5" height="7.4" rx="2" opacity="0.24"/>
<rect x="1688.45" y="399.5" width="25.5" height="7.4" rx="2" opacity="0.16"/>
<rect x="1725.35" y="383.5" width="25.5" height="7.4" rx="2" opacity="0.22"/>
<rect x="1725.35" y="399.6" width="25.5" height="7.4" rx="2" opacity="0.16"/>
<rect x="1899.85" y="385.7" width="25.5" height="7.4" rx="2" opacity="0.15"/>
<rect x="1899.85" y="401.5" width="25.5" height="7.4" rx="2" opacity="0.11"/>
<rect x="1934.85" y="386.4" width="25.5" height="7.4" rx="2" opacity="0.25"/>
<rect x="1934.85" y="402.1" width="25.5" height="7.4" rx="2" opacity="0.19"/>
<rect x="1966.95" y="387.5" width="25.5" height="7.4" rx="2" opacity="0.31"/>
<rect x="1966.95" y="402.5" width="25.5" height="7.4" rx="2" opacity="0.25"/>
</g>
<g filter="url(#b1)">
<rect x="1654.05" y="386.45" width="23.5" height="3.1" rx="1.3" opacity="0.24"/>
<rect x="1654.05" y="402.05" width="23.5" height="3.1" rx="1.3" opacity="0.16"/>
<rect x="1689.45" y="386.05" width="23.5" height="3.1" rx="1.3" opacity="0.32"/>
<rect x="1689.45" y="401.65" width="23.5" height="3.1" rx="1.3" opacity="0.21"/>
<rect x="1726.35" y="385.65" width="23.5" height="3.1" rx="1.3" opacity="0.29"/>
<rect x="1726.35" y="401.75" width="23.5" height="3.1" rx="1.3" opacity="0.21"/>
<rect x="1900.85" y="387.85" width="23.5" height="3.1" rx="1.3" opacity="0.2"/>
<rect x="1900.85" y="403.65" width="23.5" height="3.1" rx="1.3" opacity="0.14"/>
<rect x="1935.85" y="388.55" width="23.5" height="3.1" rx="1.3" opacity="0.34"/>
<rect x="1935.85" y="404.25" width="23.5" height="3.1" rx="1.3" opacity="0.26"/>
<rect x="1967.95" y="389.65" width="23.5" height="3.1" rx="1.3" opacity="0.42"/>
<rect x="1967.95" y="404.65" width="23.5" height="3.1" rx="1.3" opacity="0.34"/>
</g>
<g filter="url(#b0)">
<rect x="1510.75" y="383.9" width="25.5" height="6.6" rx="2.77"/>
<rect x="1510.75" y="399.1" width="25.5" height="6.2" rx="2.6" opacity="0.84"/>
<rect x="1545.45" y="383.5" width="25.5" height="6.6" rx="2.77"/>
<rect x="1545.45" y="398.9" width="25.5" height="6.2" rx="2.6"/>
<rect x="1580.85" y="383.3" width="25.5" height="6.6" rx="2.77"/>
<rect x="1580.85" y="398.9" width="25.5" height="6.2" rx="2.6"/>
<rect x="1616.65" y="383.2" width="25.5" height="6.6" rx="2.77"/>
<rect x="1616.65" y="398.9" width="25.5" height="6.2" rx="2.6"/>
<rect x="1761.15" y="384.7" width="25.5" height="6.6" rx="2.77"/>
<rect x="1761.15" y="400.2" width="25.5" height="6.2" rx="2.6"/>
<rect x="1796.15" y="385.2" width="25.5" height="6.6" rx="2.77" opacity="0.86"/>
<rect x="1796.15" y="400.7" width="25.5" height="6.2" rx="2.6" opacity="0.79"/>
<rect x="1831.75" y="385" width="25.5" height="6.6" rx="2.77"/>
<rect x="1831.75" y="400.5" width="25.5" height="6.2" rx="2.6" opacity="0.98"/>
<rect x="1866.05" y="384.9" width="25.5" height="6.6" rx="2.77"/>
<rect x="1866.05" y="400.2" width="25.5" height="6.2" rx="2.6"/>
</g>
</g>
<rect x="1497.4" y="363.9" width="502.8" height="51.8" fill="none" stroke="#262a2c" stroke-width="1.2"/>
<text x="1418.4" y="402.1" font-size="31.4" text-anchor="end" fill="#111" stroke="#111" stroke-width="0.28">p-ERK 1/2</text>
<text x="1480.2" y="382.1" font-size="23.1" text-anchor="end" stroke="#000" stroke-width="0.28">50</text>
<line x1="1486.4" y1="375.5" x2="1497.4" y2="375.5" stroke="#222" stroke-width="1.2"/>
<text x="1480.2" y="417.8" font-size="23.1" text-anchor="end" stroke="#000" stroke-width="0.28">37</text>
<line x1="1486.4" y1="411.3" x2="1497.4" y2="411.3" stroke="#222" stroke-width="1.2"/>
<clipPath id="bc6"><rect x="1497.4" y="427.6" width="502.8" height="51.2"/></clipPath>
<rect x="1497.4" y="427.6" width="502.8" height="51.2" fill="#f4f4f4"/>
<g clip-path="url(#bc6)" fill="#0b0e11" stroke-linecap="round">
<g filter="url(#b3)">
<ellipse cx="1527.6" cy="455.3" rx="16.5" ry="10.8" opacity="0.1"/>
<ellipse cx="1562.2" cy="455.3" rx="16.5" ry="10.8" opacity="0.1"/>
<ellipse cx="1598" cy="454.9" rx="16.5" ry="10.8" opacity="0.1"/>
<ellipse cx="1632.3" cy="454.3" rx="16.5" ry="10.8" opacity="0.1"/>
<ellipse cx="1668.4" cy="453.7" rx="16.5" ry="10.8" opacity="0.1"/>
<ellipse cx="1702.7" cy="452.9" rx="16.5" ry="10.8" opacity="0.1"/>
<ellipse cx="1737.8" cy="452.5" rx="16.5" ry="10.8" opacity="0.1"/>
<ellipse cx="1772.8" cy="452.3" rx="16.5" ry="10.8" opacity="0.1"/>
<ellipse cx="1807.9" cy="452.3" rx="16.5" ry="10.8" opacity="0.1"/>
<ellipse cx="1842.9" cy="452.3" rx="16.5" ry="10.8" opacity="0.1"/>
<ellipse cx="1877.2" cy="452.1" rx="16.5" ry="10.8" opacity="0.1"/>
<ellipse cx="1911" cy="451.9" rx="16.5" ry="10.8" opacity="0.1"/>
<ellipse cx="1944.7" cy="451.7" rx="16.5" ry="10.8" opacity="0.1"/>
<ellipse cx="1977.9" cy="452.7" rx="16.5" ry="10.8" opacity="0.1"/>
</g>
<g filter="url(#b2)">
<ellipse cx="1527.6" cy="455.3" rx="16" ry="8.3" opacity="0.26"/>
<ellipse cx="1562.2" cy="455.3" rx="16" ry="8.3" opacity="0.26"/>
<ellipse cx="1598" cy="454.9" rx="16" ry="8.3" opacity="0.26"/>
<ellipse cx="1632.3" cy="454.3" rx="16" ry="8.3" opacity="0.26"/>
<ellipse cx="1668.4" cy="453.7" rx="16" ry="8.3" opacity="0.26"/>
<ellipse cx="1702.7" cy="452.9" rx="16" ry="8.3" opacity="0.26"/>
<ellipse cx="1737.8" cy="452.5" rx="16" ry="8.3" opacity="0.26"/>
<ellipse cx="1772.8" cy="452.3" rx="16" ry="8.3" opacity="0.26"/>
<ellipse cx="1807.9" cy="452.3" rx="16" ry="8.3" opacity="0.26"/>
<ellipse cx="1842.9" cy="452.3" rx="16" ry="8.3" opacity="0.26"/>
<ellipse cx="1877.2" cy="452.1" rx="16" ry="8.3" opacity="0.26"/>
<ellipse cx="1911" cy="451.9" rx="16" ry="8.3" opacity="0.26"/>
<ellipse cx="1944.7" cy="451.7" rx="16" ry="8.3" opacity="0.26"/>
<ellipse cx="1977.9" cy="452.7" rx="16" ry="8.3" opacity="0.26"/>
</g>
<g filter="url(#b1)">
<path d="M1516.3 448.56Q1527.6 451.37 1538.9 448.56Q1542.1 448.56 1542.1 451.76L1542.1 455.26Q1542.1 460.76 1534.4 460.76Q1527.6 462.63 1520.8 460.76Q1513.1 460.76 1513.1 455.26L1513.1 451.76Q1513.1 448.56 1516.3 448.56Z"/>
<path d="M1550.9 448.56Q1562.2 451.37 1573.5 448.56Q1576.7 448.56 1576.7 451.76L1576.7 455.26Q1576.7 460.76 1569 460.76Q1562.2 462.63 1555.4 460.76Q1547.7 460.76 1547.7 455.26L1547.7 451.76Q1547.7 448.56 1550.9 448.56Z"/>
<path d="M1586.7 448.17Q1598 450.97 1609.3 448.17Q1612.5 448.17 1612.5 451.37L1612.5 454.86Q1612.5 460.36 1604.8 460.36Q1598 462.23 1591.2 460.36Q1583.5 460.36 1583.5 454.86L1583.5 451.37Q1583.5 448.17 1586.7 448.17Z"/>
<path d="M1621 447.56Q1632.3 450.37 1643.6 447.56Q1646.8 447.56 1646.8 450.76L1646.8 454.26Q1646.8 459.76 1639.1 459.76Q1632.3 461.63 1625.5 459.76Q1617.8 459.76 1617.8 454.26L1617.8 450.76Q1617.8 447.56 1621 447.56Z"/>
<path d="M1657.1 446.96Q1668.4 449.77 1679.7 446.96Q1682.9 446.96 1682.9 450.16L1682.9 453.66Q1682.9 459.16 1675.2 459.16Q1668.4 461.03 1661.6 459.16Q1653.9 459.16 1653.9 453.66L1653.9 450.16Q1653.9 446.96 1657.1 446.96Z"/>
<path d="M1691.4 446.17Q1702.7 448.97 1714 446.17Q1717.2 446.17 1717.2 449.37L1717.2 452.86Q1717.2 458.36 1709.5 458.36Q1702.7 460.23 1695.9 458.36Q1688.2 458.36 1688.2 452.86L1688.2 449.37Q1688.2 446.17 1691.4 446.17Z"/>
<path d="M1726.5 445.76Q1737.8 448.57 1749.1 445.76Q1752.3 445.76 1752.3 448.96L1752.3 452.46Q1752.3 457.96 1744.6 457.96Q1737.8 459.83 1731 457.96Q1723.3 457.96 1723.3 452.46L1723.3 448.96Q1723.3 445.76 1726.5 445.76Z"/>
<path d="M1761.5 445.56Q1772.8 448.37 1784.1 445.56Q1787.3 445.56 1787.3 448.76L1787.3 452.26Q1787.3 457.76 1779.6 457.76Q1772.8 459.63 1766 457.76Q1758.3 457.76 1758.3 452.26L1758.3 448.76Q1758.3 445.56 1761.5 445.56Z"/>
<path d="M1796.6 445.56Q1807.9 448.37 1819.2 445.56Q1822.4 445.56 1822.4 448.76L1822.4 452.26Q1822.4 457.76 1814.7 457.76Q1807.9 459.63 1801.1 457.76Q1793.4 457.76 1793.4 452.26L1793.4 448.76Q1793.4 445.56 1796.6 445.56Z"/>
<path d="M1831.6 445.56Q1842.9 448.37 1854.2 445.56Q1857.4 445.56 1857.4 448.76L1857.4 452.26Q1857.4 457.76 1849.7 457.76Q1842.9 459.63 1836.1 457.76Q1828.4 457.76 1828.4 452.26L1828.4 448.76Q1828.4 445.56 1831.6 445.56Z"/>
<path d="M1865.9 445.37Q1877.2 448.17 1888.5 445.37Q1891.7 445.37 1891.7 448.56L1891.7 452.06Q1891.7 457.56 1884 457.56Q1877.2 459.43 1870.4 457.56Q1862.7 457.56 1862.7 452.06L1862.7 448.56Q1862.7 445.37 1865.9 445.37Z"/>
<path d="M1899.7 445.17Q1911 447.97 1922.3 445.17Q1925.5 445.17 1925.5 448.37L1925.5 451.86Q1925.5 457.36 1917.8 457.36Q1911 459.23 1904.2 457.36Q1896.5 457.36 1896.5 451.86L1896.5 448.37Q1896.5 445.17 1899.7 445.17Z"/>
<path d="M1933.4 444.96Q1944.7 447.77 1956 444.96Q1959.2 444.96 1959.2 448.16L1959.2 451.66Q1959.2 457.16 1951.5 457.16Q1944.7 459.03 1937.9 457.16Q1930.2 457.16 1930.2 451.66L1930.2 448.16Q1930.2 444.96 1933.4 444.96Z"/>
<path d="M1966.6 445.96Q1977.9 448.77 1989.2 445.96Q1992.4 445.96 1992.4 449.16L1992.4 452.66Q1992.4 458.16 1984.7 458.16Q1977.9 460.03 1971.1 458.16Q1963.4 458.16 1963.4 452.66L1963.4 449.16Q1963.4 445.96 1966.6 445.96Z"/>
</g>
</g>
<rect x="1497.4" y="427.6" width="502.8" height="51.2" fill="none" stroke="#262a2c" stroke-width="1.2"/>
<text x="1418.4" y="464.4" font-size="31.4" text-anchor="end" fill="#111" stroke="#111" stroke-width="0.28">ACTIN</text>
<text x="1480.2" y="448.5" font-size="23.1" text-anchor="end" stroke="#000" stroke-width="0.28">50</text>
<line x1="1486.4" y1="438.6" x2="1497.4" y2="438.6" stroke="#222" stroke-width="1.2"/>
</g>
<g id="panel-e">
<text x="1267.2" y="614.4" font-size="62" font-weight="bold" fill="#15191a" stroke="#15191a" stroke-width="0.4">e</text>
<text x="1641.5" y="639.7" font-size="24" font-weight="bold" font-style="italic" stroke="#000" stroke-width="0.45" text-anchor="middle">Ripk3<tspan font-size="14.4" dy="-8.4" letter-spacing="-0.7">+/+</tspan></text>
<text x="1883.5" y="639.7" font-size="24" font-weight="bold" font-style="italic" fill="#509535" stroke="#509535" stroke-width="0.4" text-anchor="middle">Ripk3<tspan font-size="13.92" dy="-8.4">D333A/D333A</tspan></text>
<line x1="1530.1" y1="652.8" x2="1727.8" y2="652.8" stroke="#4a4f52" stroke-width="1.3"/>
<line x1="1783.2" y1="652.8" x2="1980.9" y2="652.8" stroke="#4a4f52" stroke-width="1.3"/>
<text x="1544.5" y="685" font-size="20.8" text-anchor="middle" stroke="#000" stroke-width="0.28">NT</text>
<text x="1580.1" y="685" font-size="20.8" text-anchor="middle" stroke="#000" stroke-width="0.28">S</text>
<text x="1614.5" y="685" font-size="20.8" text-anchor="middle" stroke="#000" stroke-width="0.28">L</text>
<text x="1647.8" y="685" font-size="20.8" text-anchor="middle" stroke="#000" stroke-width="0.28">LS</text>
<text x="1683" y="685" font-size="20.8" text-anchor="middle" stroke="#000" stroke-width="0.28">P</text>
<text x="1719" y="685" font-size="20.8" text-anchor="middle" stroke="#000" stroke-width="0.28">PS</text>
<text x="1796.4" y="685" font-size="20.8" text-anchor="middle" stroke="#000" stroke-width="0.28">NT</text>
<text x="1832" y="685" font-size="20.8" text-anchor="middle" stroke="#000" stroke-width="0.28">S</text>
<text x="1866.6" y="685" font-size="20.8" text-anchor="middle" stroke="#000" stroke-width="0.28">L</text>
<text x="1899.6" y="685" font-size="20.8" text-anchor="middle" stroke="#000" stroke-width="0.28">LS</text>
<text x="1934.9" y="685" font-size="20.8" text-anchor="middle" stroke="#000" stroke-width="0.28">P</text>
<text x="1970.7" y="685" font-size="20.8" text-anchor="middle" stroke="#000" stroke-width="0.28">PS</text>
<clipPath id="bc7"><rect x="1525.2" y="708.2" width="463.2" height="59.1"/></clipPath>
<rect x="1525.2" y="708.2" width="463.2" height="59.1" fill="#ebebeb"/>
<g clip-path="url(#bc7)" fill="#0b0e11" stroke-linecap="round">
<g filter="url(#b3)">
<ellipse cx="1617.3" cy="726.8" rx="15.65" ry="9.5" opacity="0.1"/>
<ellipse cx="1652.4" cy="725.7" rx="15.65" ry="9.5" opacity="0.1"/>
<ellipse cx="1864.7" cy="728.8" rx="15.75" ry="9.75" opacity="0.1"/>
<ellipse cx="1898.7" cy="728.8" rx="15.25" ry="9.75" opacity="0.1"/>
<ellipse cx="1933.7" cy="729.6" rx="15.25" ry="9.5" opacity="0.1"/>
<ellipse cx="1968" cy="730.8" rx="14.5" ry="9.5" opacity="0.1"/>
</g>
<g filter="url(#b2)">
<rect x="1537.5" y="728.8" width="22" height="42" opacity="0.07"/>
<rect x="1538.25" y="734.9" width="20.5" height="4.8" rx="2" opacity="0.03"/>
<rect x="1538.25" y="740.9" width="20.5" height="4.8" rx="2" opacity="0.02"/>
<rect x="1538.25" y="746.4" width="20.5" height="4.8" rx="2" opacity="0.01"/>
<rect x="1538.25" y="751.9" width="20.5" height="4.8" rx="2" opacity="0.03"/>
<rect x="1538.25" y="758.4" width="20.5" height="4.8" rx="2" opacity="0.02"/>
<ellipse cx="1548.5" cy="728.8" rx="13.15" ry="4.75" opacity="0.25"/>
<rect x="1572.1" y="727.7" width="22" height="42" opacity="0.11"/>
<rect x="1572.6" y="712.2" width="21" height="9" opacity="0.03"/>
<rect x="1572.85" y="733.8" width="20.5" height="4.8" rx="2" opacity="0.05"/>
<rect x="1572.85" y="739.8" width="20.5" height="4.8" rx="2" opacity="0.03"/>
<rect x="1572.85" y="745.3" width="20.5" height="4.8" rx="2" opacity="0.02"/>
<rect x="1572.85" y="750.8" width="20.5" height="4.8" rx="2" opacity="0.04"/>
<rect x="1572.85" y="757.3" width="20.5" height="4.8" rx="2" opacity="0.03"/>
<ellipse cx="1583.1" cy="727.7" rx="14.3" ry="5.5" opacity="0.26"/>
<rect x="1606.3" y="726.8" width="22" height="42" opacity="0.2"/>
<rect x="1606.8" y="711.3" width="21" height="9" opacity="0.14"/>
<rect x="1607.05" y="732.9" width="20.5" height="4.8" rx="2" opacity="0.09"/>
<rect x="1607.05" y="738.9" width="20.5" height="4.8" rx="2" opacity="0.05"/>
<rect x="1607.05" y="744.4" width="20.5" height="4.8" rx="2" opacity="0.03"/>
<rect x="1607.05" y="749.9" width="20.5" height="4.8" rx="2" opacity="0.08"/>
<rect x="1607.05" y="756.4" width="20.5" height="4.8" rx="2" opacity="0.05"/>
<ellipse cx="1617.3" cy="726.8" rx="15.15" ry="7" opacity="0.26"/>
<rect x="1641.4" y="725.7" width="22" height="42" opacity="0.2"/>
<rect x="1641.9" y="710.2" width="21" height="9" opacity="0.16"/>
<rect x="1642.15" y="731.8" width="20.5" height="4.8" rx="2" opacity="0.09"/>
<rect x="1642.15" y="737.8" width="20.5" height="4.8" rx="2" opacity="0.05"/>
<rect x="1642.15" y="743.3" width="20.5" height="4.8" rx="2" opacity="0.03"/>
<rect x="1642.15" y="748.8" width="20.5" height="4.8" rx="2" opacity="0.08"/>
<rect x="1642.15" y="755.3" width="20.5" height="4.8" rx="2" opacity="0.05"/>
<ellipse cx="1652.4" cy="725.7" rx="15.15" ry="7" opacity="0.26"/>
<rect x="1676.4" y="725.7" width="22" height="42" opacity="0.16"/>
<rect x="1676.9" y="710.2" width="21" height="9" opacity="0.11"/>
<rect x="1677.15" y="731.8" width="20.5" height="4.8" rx="2" opacity="0.07"/>
<rect x="1677.15" y="737.8" width="20.5" height="4.8" rx="2" opacity="0.04"/>
<rect x="1677.15" y="743.3" width="20.5" height="4.8" rx="2" opacity="0.03"/>
<rect x="1677.15" y="748.8" width="20.5" height="4.8" rx="2" opacity="0.06"/>
<rect x="1677.15" y="755.3" width="20.5" height="4.8" rx="2" opacity="0.04"/>
<ellipse cx="1687.4" cy="725.7" rx="15.15" ry="6.5" opacity="0.26"/>
<rect x="1711" y="726.1" width="22" height="42" opacity="0.15"/>
<rect x="1711.5" y="710.6" width="21" height="9" opacity="0.13"/>
<rect x="1711.75" y="732.2" width="20.5" height="4.8" rx="2" opacity="0.07"/>
<rect x="1711.75" y="738.2" width="20.5" height="4.8" rx="2" opacity="0.03"/>
<rect x="1711.75" y="743.7" width="20.5" height="4.8" rx="2" opacity="0.03"/>
<rect x="1711.75" y="749.2" width="20.5" height="4.8" rx="2" opacity="0.06"/>
<rect x="1711.75" y="755.7" width="20.5" height="4.8" rx="2" opacity="0.04"/>
<ellipse cx="1722" cy="726.1" rx="14" ry="6.5" opacity="0.26"/>
<rect x="1783.9" y="727.7" width="22" height="42" opacity="0.08"/>
<rect x="1784.65" y="733.8" width="20.5" height="4.8" rx="2" opacity="0.04"/>
<rect x="1784.65" y="739.8" width="20.5" height="4.8" rx="2" opacity="0.02"/>
<rect x="1784.65" y="745.3" width="20.5" height="4.8" rx="2" opacity="0.01"/>
<rect x="1784.65" y="750.8" width="20.5" height="4.8" rx="2" opacity="0.03"/>
<rect x="1784.65" y="757.3" width="20.5" height="4.8" rx="2" opacity="0.02"/>
<ellipse cx="1794.9" cy="727.7" rx="14.35" ry="5.25" opacity="0.26"/>
<rect x="1818.9" y="727.7" width="22" height="42" opacity="0.12"/>
<rect x="1819.4" y="712.2" width="21" height="9" opacity="0.05"/>
<rect x="1819.65" y="733.8" width="20.5" height="4.8" rx="2" opacity="0.06"/>
<rect x="1819.65" y="739.8" width="20.5" height="4.8" rx="2" opacity="0.03"/>
<rect x="1819.65" y="745.3" width="20.5" height="4.8" rx="2" opacity="0.02"/>
<rect x="1819.65" y="750.8" width="20.5" height="4.8" rx="2" opacity="0.05"/>
<rect x="1819.65" y="757.3" width="20.5" height="4.8" rx="2" opacity="0.03"/>
<ellipse cx="1829.9" cy="727.7" rx="14.35" ry="6" opacity="0.26"/>
<rect x="1853.7" y="728.8" width="22" height="42" opacity="0.19"/>
<rect x="1854.2" y="713.3" width="21" height="9" opacity="0.13"/>
<rect x="1854.45" y="734.9" width="20.5" height="4.8" rx="2" opacity="0.08"/>
<rect x="1854.45" y="740.9" width="20.5" height="4.8" rx="2" opacity="0.04"/>
<rect x="1854.45" y="746.4" width="20.5" height="4.8" rx="2" opacity="0.03"/>
<rect x="1854.45" y="751.9" width="20.5" height="4.8" rx="2" opacity="0.07"/>
<rect x="1854.45" y="758.4" width="20.5" height="4.8" rx="2" opacity="0.05"/>
<ellipse cx="1864.7" cy="728.8" rx="15.25" ry="7.25" opacity="0.26"/>
<rect x="1887.7" y="728.8" width="22" height="42" opacity="0.19"/>
<rect x="1888.2" y="713.3" width="21" height="9" opacity="0.14"/>
<rect x="1888.45" y="734.9" width="20.5" height="4.8" rx="2" opacity="0.08"/>
<rect x="1888.45" y="740.9" width="20.5" height="4.8" rx="2" opacity="0.04"/>
<rect x="1888.45" y="746.4" width="20.5" height="4.8" rx="2" opacity="0.03"/>
<rect x="1888.45" y="751.9" width="20.5" height="4.8" rx="2" opacity="0.07"/>
<rect x="1888.45" y="758.4" width="20.5" height="4.8" rx="2" opacity="0.05"/>
<ellipse cx="1898.7" cy="728.8" rx="14.75" ry="7.25" opacity="0.26"/>
<rect x="1922.7" y="729.6" width="22" height="42" opacity="0.17"/>
<rect x="1923.2" y="714.1" width="21" height="9" opacity="0.11"/>
<rect x="1923.45" y="735.7" width="20.5" height="4.8" rx="2" opacity="0.08"/>
<rect x="1923.45" y="741.7" width="20.5" height="4.8" rx="2" opacity="0.04"/>
<rect x="1923.45" y="747.2" width="20.5" height="4.8" rx="2" opacity="0.03"/>
<rect x="1923.45" y="752.7" width="20.5" height="4.8" rx="2" opacity="0.07"/>
<rect x="1923.45" y="759.2" width="20.5" height="4.8" rx="2" opacity="0.05"/>
<ellipse cx="1933.7" cy="729.6" rx="14.75" ry="7" opacity="0.26"/>
<rect x="1957" y="730.8" width="22" height="42" opacity="0.15"/>
<rect x="1957.5" y="715.3" width="21" height="9" opacity="0.13"/>
<rect x="1957.75" y="736.9" width="20.5" height="4.8" rx="2" opacity="0.07"/>
<rect x="1957.75" y="742.9" width="20.5" height="4.8" rx="2" opacity="0.03"/>
<rect x="1957.75" y="748.4" width="20.5" height="4.8" rx="2" opacity="0.03"/>
<rect x="1957.75" y="753.9" width="20.5" height="4.8" rx="2" opacity="0.06"/>
<rect x="1957.75" y="760.4" width="20.5" height="4.8" rx="2" opacity="0.04"/>
<ellipse cx="1968" cy="730.8" rx="14" ry="7" opacity="0.26"/>
<rect x="1749.5" y="726.3" width="16" height="5.4" rx="2" opacity="0.04"/>
</g>
<g filter="url(#b1)">
<rect x="1539.25" y="736.2" width="18.5" height="2.2" rx="0.92" opacity="0.04"/>
<rect x="1539.25" y="742.2" width="18.5" height="2.2" rx="0.92" opacity="0.02"/>
<rect x="1539.25" y="747.7" width="18.5" height="2.2" rx="0.92" opacity="0.02"/>
<rect x="1539.25" y="753.2" width="18.5" height="2.2" rx="0.92" opacity="0.04"/>
<rect x="1539.25" y="759.7" width="18.5" height="2.2" rx="0.92" opacity="0.03"/>
<path d="M1539.1 729.59Q1548.5 728.81 1557.9 727.99" fill="none" stroke="#0b0e11" stroke-width="4.5" opacity="0.97"/>
<rect x="1573.85" y="735.1" width="18.5" height="2.2" rx="0.92" opacity="0.07"/>
<rect x="1573.85" y="741.1" width="18.5" height="2.2" rx="0.92" opacity="0.03"/>
<rect x="1573.85" y="746.6" width="18.5" height="2.2" rx="0.92" opacity="0.03"/>
<rect x="1573.85" y="752.1" width="18.5" height="2.2" rx="0.92" opacity="0.06"/>
<rect x="1573.85" y="758.6" width="18.5" height="2.2" rx="0.92" opacity="0.04"/>
<path d="M1573.3 727.3Q1583.1 728.1 1592.9 727.3" fill="none" stroke="#0b0e11" stroke-width="6"/>
<rect x="1608.05" y="734.2" width="18.5" height="2.2" rx="0.92" opacity="0.12"/>
<rect x="1608.05" y="740.2" width="18.5" height="2.2" rx="0.92" opacity="0.06"/>
<rect x="1608.05" y="745.7" width="18.5" height="2.2" rx="0.92" opacity="0.05"/>
<rect x="1608.05" y="751.2" width="18.5" height="2.2" rx="0.92" opacity="0.1"/>
<rect x="1608.05" y="757.7" width="18.5" height="2.2" rx="0.92" opacity="0.07"/>
<path d="M1606.71 722.3Q1617.3 722.58 1627.89 722.3Q1630.95 722.3 1630.95 725.36L1630.95 727.34C1630.95 732.62 1603.65 732.62 1603.65 727.34L1603.65 725.36Q1603.65 722.3 1606.71 722.3Z"/>
<rect x="1643.15" y="733.1" width="18.5" height="2.2" rx="0.92" opacity="0.12"/>
<rect x="1643.15" y="739.1" width="18.5" height="2.2" rx="0.92" opacity="0.06"/>
<rect x="1643.15" y="744.6" width="18.5" height="2.2" rx="0.92" opacity="0.05"/>
<rect x="1643.15" y="750.1" width="18.5" height="2.2" rx="0.92" opacity="0.1"/>
<rect x="1643.15" y="756.6" width="18.5" height="2.2" rx="0.92" opacity="0.07"/>
<path d="M1641.81 721.2Q1652.4 721.48 1662.99 721.2Q1666.05 721.2 1666.05 724.26L1666.05 726.24C1666.05 731.52 1638.75 731.52 1638.75 726.24L1638.75 724.26Q1638.75 721.2 1641.81 721.2Z"/>
<rect x="1678.15" y="733.1" width="18.5" height="2.2" rx="0.92" opacity="0.1"/>
<rect x="1678.15" y="739.1" width="18.5" height="2.2" rx="0.92" opacity="0.05"/>
<rect x="1678.15" y="744.6" width="18.5" height="2.2" rx="0.92" opacity="0.04"/>
<rect x="1678.15" y="750.1" width="18.5" height="2.2" rx="0.92" opacity="0.08"/>
<rect x="1678.15" y="756.6" width="18.5" height="2.2" rx="0.92" opacity="0.06"/>
<path d="M1677.75 725.3Q1687.4 726.1 1697.05 725.3" fill="none" stroke="#0b0e11" stroke-width="8"/>
<rect x="1712.75" y="733.5" width="18.5" height="2.2" rx="0.92" opacity="0.09"/>
<rect x="1712.75" y="739.5" width="18.5" height="2.2" rx="0.92" opacity="0.05"/>
<rect x="1712.75" y="745" width="18.5" height="2.2" rx="0.92" opacity="0.03"/>
<rect x="1712.75" y="750.5" width="18.5" height="2.2" rx="0.92" opacity="0.08"/>
<rect x="1712.75" y="757" width="18.5" height="2.2" rx="0.92" opacity="0.05"/>
<path d="M1713.5 725.7Q1722 726.5 1730.5 725.7" fill="none" stroke="#0b0e11" stroke-width="8"/>
<rect x="1785.65" y="735.1" width="18.5" height="2.2" rx="0.92" opacity="0.05"/>
<rect x="1785.65" y="741.1" width="18.5" height="2.2" rx="0.92" opacity="0.03"/>
<rect x="1785.65" y="746.6" width="18.5" height="2.2" rx="0.92" opacity="0.02"/>
<rect x="1785.65" y="752.1" width="18.5" height="2.2" rx="0.92" opacity="0.04"/>
<rect x="1785.65" y="758.6" width="18.5" height="2.2" rx="0.92" opacity="0.03"/>
<path d="M1784.8 727.3Q1794.9 728.1 1805 727.3" fill="none" stroke="#0b0e11" stroke-width="5.5"/>
<rect x="1820.65" y="735.1" width="18.5" height="2.2" rx="0.92" opacity="0.07"/>
<rect x="1820.65" y="741.1" width="18.5" height="2.2" rx="0.92" opacity="0.04"/>
<rect x="1820.65" y="746.6" width="18.5" height="2.2" rx="0.92" opacity="0.03"/>
<rect x="1820.65" y="752.1" width="18.5" height="2.2" rx="0.92" opacity="0.06"/>
<rect x="1820.65" y="758.6" width="18.5" height="2.2" rx="0.92" opacity="0.05"/>
<path d="M1820.55 727.3Q1829.9 728.1 1839.25 727.3" fill="none" stroke="#0b0e11" stroke-width="7"/>
<rect x="1855.45" y="736.2" width="18.5" height="2.2" rx="0.92" opacity="0.11"/>
<rect x="1855.45" y="742.2" width="18.5" height="2.2" rx="0.92" opacity="0.06"/>
<rect x="1855.45" y="747.7" width="18.5" height="2.2" rx="0.92" opacity="0.04"/>
<rect x="1855.45" y="753.2" width="18.5" height="2.2" rx="0.92" opacity="0.1"/>
<rect x="1855.45" y="759.7" width="18.5" height="2.2" rx="0.92" opacity="0.07"/>
<path d="M1854.18 724.05Q1864.7 724.33 1875.22 724.05Q1878.45 724.05 1878.45 727.28L1878.45 729.37C1878.45 734.94 1850.95 734.94 1850.95 729.37L1850.95 727.28Q1850.95 724.05 1854.18 724.05Z"/>
<rect x="1889.45" y="736.2" width="18.5" height="2.2" rx="0.92" opacity="0.11"/>
<rect x="1889.45" y="742.2" width="18.5" height="2.2" rx="0.92" opacity="0.06"/>
<rect x="1889.45" y="747.7" width="18.5" height="2.2" rx="0.92" opacity="0.04"/>
<rect x="1889.45" y="753.2" width="18.5" height="2.2" rx="0.92" opacity="0.1"/>
<rect x="1889.45" y="759.7" width="18.5" height="2.2" rx="0.92" opacity="0.07"/>
<path d="M1888.68 724.05Q1898.7 724.33 1908.72 724.05Q1911.95 724.05 1911.95 727.28L1911.95 729.37C1911.95 734.94 1885.45 734.94 1885.45 729.37L1885.45 727.28Q1885.45 724.05 1888.68 724.05Z"/>
<rect x="1924.45" y="737" width="18.5" height="2.2" rx="0.92" opacity="0.1"/>
<rect x="1924.45" y="743" width="18.5" height="2.2" rx="0.92" opacity="0.05"/>
<rect x="1924.45" y="748.5" width="18.5" height="2.2" rx="0.92" opacity="0.04"/>
<rect x="1924.45" y="754" width="18.5" height="2.2" rx="0.92" opacity="0.09"/>
<rect x="1924.45" y="760.5" width="18.5" height="2.2" rx="0.92" opacity="0.06"/>
<path d="M1923.51 725.1Q1933.7 725.38 1943.89 725.1Q1946.95 725.1 1946.95 728.16L1946.95 730.14C1946.95 735.42 1920.45 735.42 1920.45 730.14L1920.45 728.16Q1920.45 725.1 1923.51 725.1Z"/>
<rect x="1958.75" y="738.2" width="18.5" height="2.2" rx="0.92" opacity="0.09"/>
<rect x="1958.75" y="744.2" width="18.5" height="2.2" rx="0.92" opacity="0.05"/>
<rect x="1958.75" y="749.7" width="18.5" height="2.2" rx="0.92" opacity="0.03"/>
<rect x="1958.75" y="755.2" width="18.5" height="2.2" rx="0.92" opacity="0.08"/>
<rect x="1958.75" y="761.7" width="18.5" height="2.2" rx="0.92" opacity="0.05"/>
<path d="M1958.56 726.3Q1968 726.58 1977.44 726.3Q1980.5 726.3 1980.5 729.36L1980.5 731.34C1980.5 736.62 1955.5 736.62 1955.5 731.34L1955.5 729.36Q1955.5 726.3 1958.56 726.3Z"/>
<rect x="1750.5" y="727.9" width="14" height="2.2" rx="0.92" opacity="0.05"/>
</g>
</g>
<rect x="1525.2" y="708.2" width="463.2" height="59.1" fill="none" stroke="#262a2c" stroke-width="1.2"/>
<text x="1433.6" y="742.9" font-size="31.4" text-anchor="end" fill="#111" stroke="#111" stroke-width="0.28">NLRP3</text>
<text x="1504" y="725.6" font-size="23.1" text-anchor="end" stroke="#000" stroke-width="0.28">150</text>
<line x1="1514.2" y1="718.4" x2="1525.2" y2="718.4" stroke="#222" stroke-width="1.2"/>
<text x="1504" y="754" font-size="23.1" text-anchor="end" stroke="#000" stroke-width="0.28">100</text>
<line x1="1514.2" y1="742.5" x2="1525.2" y2="742.5" stroke="#222" stroke-width="1.2"/>
<text x="1504" y="777.6" font-size="23.1" text-anchor="end" stroke="#000" stroke-width="0.28">75</text>
<line x1="1514.2" y1="763.6" x2="1525.2" y2="763.6" stroke="#222" stroke-width="1.2"/>
<clipPath id="bc8"><rect x="1525.2" y="783.7" width="463.2" height="62.6"/></clipPath>
<rect x="1525.2" y="783.7" width="463.2" height="62.6" fill="#f5f5f5"/>
<g clip-path="url(#bc8)" fill="#0b0e11" stroke-linecap="round">
<g filter="url(#b3)">
<rect x="1606.7" y="831" width="22" height="10" opacity="0.08"/>
<rect x="1641.5" y="829" width="24" height="14" opacity="0.16"/>
<rect x="1711.8" y="829" width="22" height="10" opacity="0.08"/>
<rect x="1887.5" y="823" width="24" height="14" opacity="0.1"/>
<rect x="1854.3" y="827" width="22" height="10" opacity="0.05"/>
<ellipse cx="1617.7" cy="812.8" rx="16" ry="13" opacity="0.1"/>
<ellipse cx="1653.5" cy="813.6" rx="16.75" ry="14" opacity="0.1"/>
<ellipse cx="1722.8" cy="812.8" rx="14.8" ry="11.5" opacity="0.1"/>
<ellipse cx="1865.3" cy="811.3" rx="16" ry="12.5" opacity="0.1"/>
<ellipse cx="1899.5" cy="809.7" rx="16.25" ry="14" opacity="0.1"/>
<ellipse cx="1968.8" cy="807.6" rx="15" ry="10.25" opacity="0.1"/>
</g>
<g filter="url(#b2)">
<rect x="1575" y="807.8" width="16" height="6.4" rx="2" opacity="0.02"/>
<rect x="1786" y="802.8" width="16" height="6.4" rx="2" opacity="0.02"/>
<rect x="1821" y="802.8" width="16" height="6.4" rx="2" opacity="0.02"/>
<ellipse cx="1617.7" cy="812.8" rx="15.5" ry="10.5" opacity="0.26"/>
<ellipse cx="1653.5" cy="813.6" rx="16.25" ry="11.5" opacity="0.26"/>
<rect x="1676.1" y="811" width="24" height="9" rx="3.6" opacity="0.36"/>
<ellipse cx="1722.8" cy="812.8" rx="14.3" ry="9" opacity="0.25"/>
<ellipse cx="1865.3" cy="811.3" rx="15.5" ry="10" opacity="0.26"/>
<ellipse cx="1899.5" cy="809.7" rx="15.75" ry="11.5" opacity="0.26"/>
<ellipse cx="1933.4" cy="807.6" rx="13.5" ry="5.3" opacity="0.25"/>
<ellipse cx="1968.8" cy="807.6" rx="14.5" ry="7.75" opacity="0.26"/>
</g>
<g filter="url(#b1)">
<rect x="1576" y="809.76" width="14" height="2.48" rx="1.04" opacity="0.02"/>
<rect x="1787" y="804.76" width="14" height="2.48" rx="1.04" opacity="0.02"/>
<rect x="1822" y="804.76" width="14" height="2.48" rx="1.04" opacity="0.03"/>
<path d="M1608.3 804.8Q1617.7 805.08 1627.1 804.8Q1631.7 804.8 1631.7 809.4L1631.7 813.76C1631.7 823.15 1603.7 823.15 1603.7 813.76L1603.7 809.4Q1603.7 804.8 1608.3 804.8Z"/>
<path d="M1643.35 804.6Q1653.5 804.88 1663.65 804.6Q1668.25 804.6 1668.25 809.2L1668.25 814.68C1668.25 825.24 1638.75 825.24 1638.75 814.68L1638.75 809.2Q1638.75 804.6 1643.35 804.6Z"/>
<rect x="1676.1" y="808.5" width="24" height="3.8" rx="1.6" opacity="0.85"/>
<path d="M1714.42 806.3Q1722.8 806.58 1731.18 806.3Q1735.6 806.3 1735.6 810.72L1735.6 813.58C1735.6 821.21 1710 821.21 1710 813.58L1710 810.72Q1710 806.3 1714.42 806.3Z" opacity="0.97"/>
<path d="M1854.5 803.14Q1865.3 805.12 1876.1 803.14Q1879.3 803.14 1879.3 806.34L1879.3 813.06Q1879.3 818.56 1871.6 818.56Q1865.3 819.88 1859 818.56Q1851.3 818.56 1851.3 813.06L1851.3 806.34Q1851.3 803.14 1854.5 803.14Z"/>
<path d="M1888.45 800.04Q1899.5 802.02 1910.55 800.04Q1913.75 800.04 1913.75 803.24L1913.75 812.96Q1913.75 818.46 1906.05 818.46Q1899.5 819.78 1892.95 818.46Q1885.25 818.46 1885.25 812.96L1885.25 803.24Q1885.25 800.04 1888.45 800.04Z"/>
<path d="M1923.08 804.25Q1933.4 805.9 1943.72 804.25Q1945.4 804.25 1945.4 805.93L1945.4 807.4Q1945.4 810.2 1941.48 810.2Q1933.4 811.3 1925.32 810.2Q1921.4 810.2 1921.4 807.4L1921.4 805.93Q1921.4 804.25 1923.08 804.25Z" opacity="0.96"/>
<path d="M1958.95 801.47Q1968.8 804.11 1978.65 801.47Q1981.8 801.47 1981.8 804.62L1981.8 807.28Q1981.8 812.53 1974.45 812.53Q1968.8 814.29 1963.15 812.53Q1955.8 812.53 1955.8 807.28L1955.8 804.62Q1955.8 801.47 1958.95 801.47Z"/>
</g>
</g>
<rect x="1525.2" y="783.7" width="463.2" height="62.6" fill="none" stroke="#262a2c" stroke-width="1.2"/>
<text x="1433.6" y="816.4" font-size="31.4" text-anchor="end" fill="#111" stroke="#111" stroke-width="0.28">proIL-1β</text>
<text x="1504" y="809.3" font-size="23.1" text-anchor="end" stroke="#000" stroke-width="0.28">37</text>
<line x1="1514.2" y1="796" x2="1525.2" y2="796" stroke="#222" stroke-width="1.2"/>
<clipPath id="bc9"><rect x="1525.2" y="862.2" width="463.2" height="51.3"/></clipPath>
<rect x="1525.2" y="862.2" width="463.2" height="51.3" fill="#f5f5f5"/>
<g clip-path="url(#bc9)" fill="#0b0e11" stroke-linecap="round">
<g filter="url(#b3)">
<ellipse cx="1546.7" cy="891.4" rx="16.25" ry="9.6" opacity="0.1"/>
<ellipse cx="1581.4" cy="890.9" rx="16.25" ry="9.6" opacity="0.1"/>
<ellipse cx="1616.1" cy="890.3" rx="16.25" ry="9.6" opacity="0.1"/>
<ellipse cx="1650.5" cy="889.2" rx="16.25" ry="9.6" opacity="0.1"/>
<ellipse cx="1685.9" cy="889.2" rx="16.25" ry="9.6" opacity="0.1"/>
<ellipse cx="1721" cy="889.2" rx="16.25" ry="9.6" opacity="0.1"/>
<ellipse cx="1792.7" cy="888.2" rx="16.25" ry="9.6" opacity="0.1"/>
<ellipse cx="1827" cy="888.2" rx="16.25" ry="9.6" opacity="0.1"/>
<ellipse cx="1861.7" cy="887.6" rx="16.25" ry="9.6" opacity="0.1"/>
<ellipse cx="1895.8" cy="886.9" rx="16.25" ry="9.6" opacity="0.1"/>
<ellipse cx="1931.1" cy="886.2" rx="16.25" ry="9.6" opacity="0.1"/>
<ellipse cx="1965.8" cy="886" rx="16.25" ry="9.6" opacity="0.1"/>
</g>
<g filter="url(#b2)">
<ellipse cx="1546.7" cy="891.4" rx="15.75" ry="7.1" opacity="0.26"/>
<ellipse cx="1581.4" cy="890.9" rx="15.75" ry="7.1" opacity="0.26"/>
<ellipse cx="1616.1" cy="890.3" rx="15.75" ry="7.1" opacity="0.26"/>
<ellipse cx="1650.5" cy="889.2" rx="15.75" ry="7.1" opacity="0.26"/>
<ellipse cx="1685.9" cy="889.2" rx="15.75" ry="7.1" opacity="0.26"/>
<ellipse cx="1721" cy="889.2" rx="15.75" ry="7.1" opacity="0.26"/>
<ellipse cx="1792.7" cy="888.2" rx="15.75" ry="7.1" opacity="0.26"/>
<ellipse cx="1827" cy="888.2" rx="15.75" ry="7.1" opacity="0.26"/>
<ellipse cx="1861.7" cy="887.6" rx="15.75" ry="7.1" opacity="0.26"/>
<ellipse cx="1895.8" cy="886.9" rx="15.75" ry="7.1" opacity="0.26"/>
<ellipse cx="1931.1" cy="886.2" rx="15.75" ry="7.1" opacity="0.26"/>
<ellipse cx="1965.8" cy="886" rx="15.75" ry="7.1" opacity="0.26"/>
</g>
<g filter="url(#b1)">
<path d="M1535.21 885.92Q1546.7 888.56 1558.19 885.92Q1560.95 885.92 1560.95 888.68L1560.95 891.08Q1560.95 895.68 1554.51 895.68Q1546.7 897.44 1538.89 895.68Q1532.45 895.68 1532.45 891.08L1532.45 888.68Q1532.45 885.92 1535.21 885.92Z"/>
<path d="M1569.91 885.42Q1581.4 888.06 1592.89 885.42Q1595.65 885.42 1595.65 888.18L1595.65 890.58Q1595.65 895.18 1589.21 895.18Q1581.4 896.94 1573.59 895.18Q1567.15 895.18 1567.15 890.58L1567.15 888.18Q1567.15 885.42 1569.91 885.42Z"/>
<path d="M1604.61 884.82Q1616.1 887.46 1627.59 884.82Q1630.35 884.82 1630.35 887.58L1630.35 889.98Q1630.35 894.58 1623.91 894.58Q1616.1 896.34 1608.29 894.58Q1601.85 894.58 1601.85 889.98L1601.85 887.58Q1601.85 884.82 1604.61 884.82Z"/>
<path d="M1639.01 883.72Q1650.5 886.36 1661.99 883.72Q1664.75 883.72 1664.75 886.48L1664.75 888.88Q1664.75 893.48 1658.31 893.48Q1650.5 895.24 1642.69 893.48Q1636.25 893.48 1636.25 888.88L1636.25 886.48Q1636.25 883.72 1639.01 883.72Z"/>
<path d="M1674.41 883.72Q1685.9 886.36 1697.39 883.72Q1700.15 883.72 1700.15 886.48L1700.15 888.88Q1700.15 893.48 1693.71 893.48Q1685.9 895.24 1678.09 893.48Q1671.65 893.48 1671.65 888.88L1671.65 886.48Q1671.65 883.72 1674.41 883.72Z"/>
<path d="M1709.51 883.72Q1721 886.36 1732.49 883.72Q1735.25 883.72 1735.25 886.48L1735.25 888.88Q1735.25 893.48 1728.81 893.48Q1721 895.24 1713.19 893.48Q1706.75 893.48 1706.75 888.88L1706.75 886.48Q1706.75 883.72 1709.51 883.72Z"/>
<path d="M1781.21 882.72Q1792.7 885.36 1804.19 882.72Q1806.95 882.72 1806.95 885.48L1806.95 887.88Q1806.95 892.48 1800.51 892.48Q1792.7 894.24 1784.89 892.48Q1778.45 892.48 1778.45 887.88L1778.45 885.48Q1778.45 882.72 1781.21 882.72Z"/>
<path d="M1815.51 882.72Q1827 885.36 1838.49 882.72Q1841.25 882.72 1841.25 885.48L1841.25 887.88Q1841.25 892.48 1834.81 892.48Q1827 894.24 1819.19 892.48Q1812.75 892.48 1812.75 887.88L1812.75 885.48Q1812.75 882.72 1815.51 882.72Z"/>
<path d="M1850.21 882.12Q1861.7 884.76 1873.19 882.12Q1875.95 882.12 1875.95 884.88L1875.95 887.28Q1875.95 891.88 1869.51 891.88Q1861.7 893.64 1853.89 891.88Q1847.45 891.88 1847.45 887.28L1847.45 884.88Q1847.45 882.12 1850.21 882.12Z"/>
<path d="M1884.31 881.42Q1895.8 884.06 1907.29 881.42Q1910.05 881.42 1910.05 884.18L1910.05 886.58Q1910.05 891.18 1903.61 891.18Q1895.8 892.94 1887.99 891.18Q1881.55 891.18 1881.55 886.58L1881.55 884.18Q1881.55 881.42 1884.31 881.42Z"/>
<path d="M1919.61 880.72Q1931.1 883.36 1942.59 880.72Q1945.35 880.72 1945.35 883.48L1945.35 885.88Q1945.35 890.48 1938.91 890.48Q1931.1 892.24 1923.29 890.48Q1916.85 890.48 1916.85 885.88L1916.85 883.48Q1916.85 880.72 1919.61 880.72Z"/>
<path d="M1954.31 880.52Q1965.8 883.16 1977.29 880.52Q1980.05 880.52 1980.05 883.28L1980.05 885.68Q1980.05 890.28 1973.61 890.28Q1965.8 892.04 1957.99 890.28Q1951.55 890.28 1951.55 885.68L1951.55 883.28Q1951.55 880.52 1954.31 880.52Z"/>
</g>
</g>
<rect x="1525.2" y="862.2" width="463.2" height="51.3" fill="none" stroke="#262a2c" stroke-width="1.2"/>
<text x="1433.6" y="892.8" font-size="31.4" text-anchor="end" fill="#111" stroke="#111" stroke-width="0.28">ACTIN</text>
<text x="1504" y="884.5" font-size="23.1" text-anchor="end" stroke="#000" stroke-width="0.28">50</text>
<line x1="1514.2" y1="873.8" x2="1525.2" y2="873.8" stroke="#222" stroke-width="1.2"/>
</g>
</svg>
</body>
</html>
